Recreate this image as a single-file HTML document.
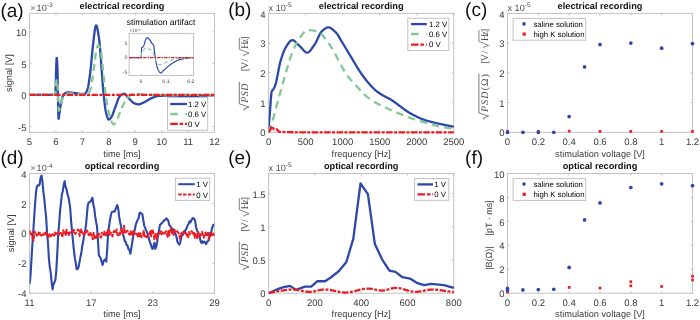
<!DOCTYPE html>
<html><head><meta charset="utf-8"><style>html,body{margin:0;padding:0;background:#fff;}svg{display:block;filter:blur(0.3px);}text{text-rendering:geometricPrecision;}</style></head>
<body><svg width="700" height="320" viewBox="0 0 700 320">
<rect width="700" height="320" fill="#fff"/>
<g>
<line x1="29.5" y1="132.3" x2="29.5" y2="130.3" stroke="#c2c2c2" stroke-width="1"/>
<line x1="29.5" y1="13.4" x2="29.5" y2="15.4" stroke="#c2c2c2" stroke-width="1"/>
<line x1="55.93" y1="132.3" x2="55.93" y2="130.3" stroke="#c2c2c2" stroke-width="1"/>
<line x1="55.93" y1="13.4" x2="55.93" y2="15.4" stroke="#c2c2c2" stroke-width="1"/>
<line x1="82.36" y1="132.3" x2="82.36" y2="130.3" stroke="#c2c2c2" stroke-width="1"/>
<line x1="82.36" y1="13.4" x2="82.36" y2="15.4" stroke="#c2c2c2" stroke-width="1"/>
<line x1="108.79" y1="132.3" x2="108.79" y2="130.3" stroke="#c2c2c2" stroke-width="1"/>
<line x1="108.79" y1="13.4" x2="108.79" y2="15.4" stroke="#c2c2c2" stroke-width="1"/>
<line x1="135.21" y1="132.3" x2="135.21" y2="130.3" stroke="#c2c2c2" stroke-width="1"/>
<line x1="135.21" y1="13.4" x2="135.21" y2="15.4" stroke="#c2c2c2" stroke-width="1"/>
<line x1="161.64" y1="132.3" x2="161.64" y2="130.3" stroke="#c2c2c2" stroke-width="1"/>
<line x1="161.64" y1="13.4" x2="161.64" y2="15.4" stroke="#c2c2c2" stroke-width="1"/>
<line x1="188.07" y1="132.3" x2="188.07" y2="130.3" stroke="#c2c2c2" stroke-width="1"/>
<line x1="188.07" y1="13.4" x2="188.07" y2="15.4" stroke="#c2c2c2" stroke-width="1"/>
<line x1="214.5" y1="132.3" x2="214.5" y2="130.3" stroke="#c2c2c2" stroke-width="1"/>
<line x1="214.5" y1="13.4" x2="214.5" y2="15.4" stroke="#c2c2c2" stroke-width="1"/>
<line x1="29.5" y1="126.38" x2="31.5" y2="126.38" stroke="#c2c2c2" stroke-width="1"/>
<line x1="214.5" y1="126.38" x2="212.5" y2="126.38" stroke="#c2c2c2" stroke-width="1"/>
<line x1="29.5" y1="94.89" x2="31.5" y2="94.89" stroke="#c2c2c2" stroke-width="1"/>
<line x1="214.5" y1="94.89" x2="212.5" y2="94.89" stroke="#c2c2c2" stroke-width="1"/>
<line x1="29.5" y1="63.4" x2="31.5" y2="63.4" stroke="#c2c2c2" stroke-width="1"/>
<line x1="214.5" y1="63.4" x2="212.5" y2="63.4" stroke="#c2c2c2" stroke-width="1"/>
<line x1="29.5" y1="31.92" x2="31.5" y2="31.92" stroke="#c2c2c2" stroke-width="1"/>
<line x1="214.5" y1="31.92" x2="212.5" y2="31.92" stroke="#c2c2c2" stroke-width="1"/>
<rect x="29.5" y="13.4" width="185" height="118.9" fill="none" stroke="#c2c2c2" stroke-width="1"/>
<text x="29.5" y="144.9" font-family="Liberation Sans" font-size="9.5" font-weight="normal" font-style="normal" fill="#3a3a3a" text-anchor="middle">5</text>
<text x="55.93" y="144.9" font-family="Liberation Sans" font-size="9.5" font-weight="normal" font-style="normal" fill="#3a3a3a" text-anchor="middle">6</text>
<text x="82.36" y="144.9" font-family="Liberation Sans" font-size="9.5" font-weight="normal" font-style="normal" fill="#3a3a3a" text-anchor="middle">7</text>
<text x="108.79" y="144.9" font-family="Liberation Sans" font-size="9.5" font-weight="normal" font-style="normal" fill="#3a3a3a" text-anchor="middle">8</text>
<text x="135.21" y="144.9" font-family="Liberation Sans" font-size="9.5" font-weight="normal" font-style="normal" fill="#3a3a3a" text-anchor="middle">9</text>
<text x="161.64" y="144.9" font-family="Liberation Sans" font-size="9.5" font-weight="normal" font-style="normal" fill="#3a3a3a" text-anchor="middle">10</text>
<text x="188.07" y="144.9" font-family="Liberation Sans" font-size="9.5" font-weight="normal" font-style="normal" fill="#3a3a3a" text-anchor="middle">11</text>
<text x="214.5" y="144.9" font-family="Liberation Sans" font-size="9.5" font-weight="normal" font-style="normal" fill="#3a3a3a" text-anchor="middle">12</text>
<text x="26.5" y="130.5" font-family="Liberation Sans" font-size="9.5" font-weight="normal" font-style="normal" fill="#3a3a3a" text-anchor="end">-5</text>
<text x="26.5" y="99.01" font-family="Liberation Sans" font-size="9.5" font-weight="normal" font-style="normal" fill="#3a3a3a" text-anchor="end">0</text>
<text x="26.5" y="67.52" font-family="Liberation Sans" font-size="9.5" font-weight="normal" font-style="normal" fill="#3a3a3a" text-anchor="end">5</text>
<text x="26.5" y="36.04" font-family="Liberation Sans" font-size="9.5" font-weight="normal" font-style="normal" fill="#3a3a3a" text-anchor="end">10</text>
<clipPath id="ca"><rect x="29.5" y="13.4" width="185" height="118.9"/></clipPath>
<g clip-path="url(#ca)">
<path d="M29.5 94.89 L29.71 94.89 L29.91 94.89 L30.12 94.89 L30.32 94.89 L30.53 94.89 L30.73 94.89 L30.94 94.89 L31.15 94.89 L31.35 94.89 L31.56 94.89 L31.76 94.89 L31.97 94.89 L32.18 94.89 L32.38 94.89 L32.59 94.89 L32.79 94.89 L33 94.89 L33.2 94.89 L33.41 94.89 L33.62 94.89 L33.82 94.89 L34.03 94.89 L34.23 94.89 L34.44 94.89 L34.64 94.89 L34.85 94.89 L35.06 94.89 L35.26 94.89 L35.47 94.89 L35.67 94.89 L35.88 94.89 L36.09 94.89 L36.29 94.89 L36.5 94.89 L36.7 94.89 L36.91 94.89 L37.11 94.89 L37.32 94.89 L37.53 94.89 L37.73 94.89 L37.94 94.89 L38.14 94.89 L38.35 94.89 L38.55 94.89 L38.76 94.89 L38.97 94.89 L39.17 94.89 L39.38 94.89 L39.58 94.89 L39.79 94.89 L39.99 94.89 L40.2 94.89 L40.41 94.89 L40.61 94.89 L40.82 94.89 L41.02 94.89 L41.23 94.89 L41.44 94.89 L41.64 94.89 L41.85 94.89 L42.05 94.89 L42.26 94.89 L42.46 94.89 L42.67 94.89 L42.88 94.89 L43.08 94.89 L43.29 94.89 L43.49 94.89 L43.7 94.89 L43.9 94.89 L44.11 94.89 L44.32 94.89 L44.52 94.89 L44.73 94.89 L44.93 94.89 L45.14 94.89 L45.35 94.89 L45.55 94.89 L45.76 94.89 L45.96 94.89 L46.17 94.89 L46.37 94.89 L46.58 94.89 L46.79 94.89 L46.99 94.89 L47.2 94.89 L47.4 94.89 L47.61 94.89 L47.81 94.89 L48.02 94.89 L48.23 94.89 L48.43 94.89 L48.64 94.89 L48.84 94.89 L49.05 94.89 L49.26 94.89 L49.46 94.89 L49.67 94.89 L49.87 94.89 L50.08 94.89 L50.28 94.89 L50.49 94.89 L50.7 94.89 L50.9 94.89 L51.11 94.89 L51.31 94.89 L51.52 94.89 L51.72 94.89 L51.93 94.89 L52.14 94.89 L52.34 94.89 L52.55 94.89 L52.75 94.89 L52.96 94.89 L53.17 94.89 L53.37 94.89 L53.58 94.89 L53.78 94.89 L53.99 94.89 L54.19 94.89 L54.4 94.89 L54.61 94.89 L54.81 94.89 L55.02 94.89 L55.22 94.89 L55.43 94.77 L55.63 88.68 L55.84 79.14 L56.05 72.49 L56.25 66.14 L56.46 60.79 L56.66 57.9 L56.87 58.27 L57.08 60.56 L57.28 64.29 L57.49 69.01 L57.69 78.27 L57.9 92.83 L58.1 103.92 L58.31 113.09 L58.52 118.75 L58.72 118.73 L58.93 117.4 L59.13 115.62 L59.34 113.95 L59.54 112.61 L59.75 111.22 L59.96 109.83 L60.16 108.44 L60.37 107.09 L60.57 105.8 L60.78 104.6 L60.98 103.51 L61.19 102.55 L61.4 101.68 L61.6 100.83 L61.81 99.99 L62.01 99.17 L62.22 98.38 L62.43 97.64 L62.63 96.94 L62.84 96.3 L63.04 95.72 L63.25 95.22 L63.45 94.81 L63.66 94.48 L63.87 94.25 L64.07 94.08 L64.28 93.91 L64.48 93.75 L64.69 93.6 L64.89 93.45 L65.1 93.31 L65.31 93.18 L65.51 93.06 L65.72 92.95 L65.92 92.85 L66.13 92.75 L66.34 92.67 L66.54 92.59 L66.75 92.53 L66.95 92.48 L67.16 92.43 L67.36 92.4 L67.57 92.38 L67.78 92.37 L67.98 92.37 L68.19 92.38 L68.39 92.38 L68.6 92.39 L68.8 92.4 L69.01 92.41 L69.22 92.42 L69.42 92.43 L69.63 92.45 L69.83 92.47 L70.04 92.49 L70.25 92.51 L70.45 92.53 L70.66 92.55 L70.86 92.57 L71.07 92.59 L71.27 92.62 L71.48 92.64 L71.69 92.67 L71.89 92.69 L72.1 92.72 L72.3 92.75 L72.51 92.77 L72.71 92.8 L72.92 92.82 L73.13 92.85 L73.33 92.88 L73.54 92.9 L73.74 92.93 L73.95 92.95 L74.16 92.97 L74.36 93 L74.57 93.02 L74.77 93.04 L74.98 93.07 L75.18 93.09 L75.39 93.12 L75.6 93.15 L75.8 93.18 L76.01 93.21 L76.21 93.24 L76.42 93.27 L76.62 93.3 L76.83 93.33 L77.04 93.37 L77.24 93.4 L77.45 93.43 L77.65 93.46 L77.86 93.5 L78.07 93.53 L78.27 93.56 L78.48 93.59 L78.68 93.62 L78.89 93.65 L79.09 93.68 L79.3 93.71 L79.51 93.74 L79.71 93.76 L79.92 93.79 L80.12 93.81 L80.33 93.83 L80.53 93.85 L80.74 93.87 L80.95 93.89 L81.15 93.9 L81.36 93.92 L81.56 93.93 L81.77 93.94 L81.97 93.94 L82.18 93.95 L82.39 93.95 L82.59 93.94 L82.8 93.94 L83 93.93 L83.21 93.91 L83.42 93.89 L83.62 93.87 L83.83 93.84 L84.03 93.82 L84.24 93.78 L84.44 93.75 L84.65 93.71 L84.86 93.66 L85.06 93.62 L85.27 93.51 L85.47 93.34 L85.68 93.1 L85.88 92.8 L86.09 92.45 L86.3 92.05 L86.5 91.61 L86.71 91.13 L86.91 90.61 L87.12 90.07 L87.33 89.5 L87.53 88.92 L87.74 88.3 L87.94 87.55 L88.15 86.66 L88.35 85.64 L88.56 84.5 L88.77 83.25 L88.97 81.92 L89.18 80.52 L89.38 79.05 L89.59 77.53 L89.79 75.98 L90 74.41 L90.21 72.83 L90.41 71.21 L90.62 69.42 L90.82 67.46 L91.03 65.36 L91.24 63.17 L91.44 60.92 L91.65 58.63 L91.85 56.35 L92.06 54.11 L92.26 51.93 L92.47 49.85 L92.68 47.92 L92.88 46.15 L93.09 44.49 L93.29 42.77 L93.5 40.99 L93.7 39.2 L93.91 37.4 L94.12 35.64 L94.32 33.93 L94.53 32.3 L94.73 30.78 L94.94 29.39 L95.15 28.16 L95.35 27.12 L95.56 26.29 L95.76 25.7 L95.97 25.36 L96.17 25.32 L96.38 25.48 L96.59 25.82 L96.79 26.33 L97 26.98 L97.2 27.77 L97.41 28.68 L97.61 29.7 L97.82 30.8 L98.03 31.98 L98.23 33.23 L98.44 34.52 L98.64 35.84 L98.85 37.18 L99.06 38.53 L99.26 40.12 L99.47 41.99 L99.67 44.12 L99.88 46.45 L100.08 48.96 L100.29 51.58 L100.5 54.29 L100.7 57.04 L100.91 59.78 L101.11 62.48 L101.32 65.1 L101.52 67.65 L101.73 70.34 L101.94 73.13 L102.14 75.97 L102.35 78.83 L102.55 81.65 L102.76 84.4 L102.96 87.03 L103.17 89.5 L103.38 91.76 L103.58 93.8 L103.79 95.77 L103.99 97.73 L104.2 99.64 L104.41 101.5 L104.61 103.3 L104.82 105.01 L105.02 106.63 L105.23 108.14 L105.43 109.53 L105.64 110.78 L105.85 111.87 L106.05 112.8 L106.26 113.58 L106.46 114.33 L106.67 115.06 L106.87 115.77 L107.08 116.45 L107.29 117.08 L107.49 117.66 L107.7 118.18 L107.9 118.63 L108.11 119.01 L108.32 119.29 L108.52 119.49 L108.73 119.57 L108.93 119.57 L109.14 119.51 L109.34 119.4 L109.55 119.26 L109.76 119.09 L109.96 118.88 L110.17 118.65 L110.37 118.39 L110.58 118.12 L110.78 117.84 L110.99 117.55 L111.2 117.26 L111.4 116.97 L111.61 116.66 L111.81 116.31 L112.02 115.92 L112.23 115.48 L112.43 115.01 L112.64 114.51 L112.84 113.98 L113.05 113.43 L113.25 112.87 L113.46 112.28 L113.67 111.69 L113.87 111.09 L114.08 110.49 L114.28 109.89 L114.49 109.29 L114.69 108.71 L114.9 108.14 L115.11 107.59 L115.31 107.06 L115.52 106.55 L115.72 106.01 L115.93 105.46 L116.14 104.9 L116.34 104.32 L116.55 103.73 L116.75 103.14 L116.96 102.54 L117.16 101.95 L117.37 101.37 L117.58 100.8 L117.78 100.24 L117.99 99.69 L118.19 99.17 L118.4 98.67 L118.6 98.21 L118.81 97.77 L119.02 97.37 L119.22 97.01 L119.43 96.69 L119.63 96.42 L119.84 96.19 L120.05 96.01 L120.25 95.83 L120.46 95.66 L120.66 95.48 L120.87 95.32 L121.07 95.16 L121.28 95 L121.49 94.85 L121.69 94.71 L121.9 94.58 L122.1 94.46 L122.31 94.34 L122.51 94.23 L122.72 94.14 L122.93 94.06 L123.13 93.98 L123.34 93.92 L123.54 93.88 L123.75 93.84 L123.95 93.83 L124.16 93.82 L124.37 93.85 L124.57 93.9 L124.78 93.99 L124.98 94.11 L125.19 94.25 L125.4 94.41 L125.6 94.59 L125.81 94.79 L126.01 95.01 L126.22 95.24 L126.42 95.47 L126.63 95.72 L126.84 95.98 L127.04 96.23 L127.25 96.49 L127.45 96.75 L127.66 97 L127.86 97.24 L128.07 97.48 L128.28 97.71 L128.48 97.92 L128.69 98.12 L128.89 98.32 L129.1 98.53 L129.31 98.74 L129.51 98.97 L129.72 99.19 L129.92 99.42 L130.13 99.65 L130.33 99.88 L130.54 100.11 L130.75 100.34 L130.95 100.57 L131.16 100.8 L131.36 101.02 L131.57 101.24 L131.77 101.46 L131.98 101.66 L132.19 101.86 L132.39 102.05 L132.6 102.23 L132.8 102.4 L133.01 102.56 L133.22 102.7 L133.42 102.83 L133.63 102.95 L133.83 103.05 L134.04 103.14 L134.24 103.23 L134.45 103.31 L134.66 103.4 L134.86 103.48 L135.07 103.57 L135.27 103.65 L135.48 103.72 L135.68 103.8 L135.89 103.87 L136.1 103.93 L136.3 104 L136.51 104.06 L136.71 104.11 L136.92 104.16 L137.13 104.21 L137.33 104.24 L137.54 104.28 L137.74 104.3 L137.95 104.32 L138.15 104.33 L138.36 104.34 L138.57 104.33 L138.77 104.32 L138.98 104.3 L139.18 104.27 L139.39 104.24 L139.59 104.2 L139.8 104.15 L140.01 104.09 L140.21 104.03 L140.42 103.96 L140.62 103.89 L140.83 103.82 L141.04 103.74 L141.24 103.65 L141.45 103.56 L141.65 103.47 L141.86 103.38 L142.06 103.28 L142.27 103.19 L142.48 103.09 L142.68 102.99 L142.89 102.89 L143.09 102.78 L143.3 102.68 L143.5 102.58 L143.71 102.48 L143.92 102.39 L144.12 102.29 L144.33 102.2 L144.53 102.1 L144.74 102.01 L144.94 101.91 L145.15 101.8 L145.36 101.69 L145.56 101.58 L145.77 101.46 L145.97 101.34 L146.18 101.22 L146.39 101.1 L146.59 100.97 L146.8 100.84 L147 100.71 L147.21 100.58 L147.41 100.45 L147.62 100.31 L147.83 100.18 L148.03 100.05 L148.24 99.92 L148.44 99.79 L148.65 99.66 L148.85 99.53 L149.06 99.41 L149.27 99.28 L149.47 99.16 L149.68 99.04 L149.88 98.93 L150.09 98.82 L150.3 98.71 L150.5 98.61 L150.71 98.51 L150.91 98.42 L151.12 98.34 L151.32 98.25 L151.53 98.16 L151.74 98.08 L151.94 97.99 L152.15 97.9 L152.35 97.81 L152.56 97.73 L152.76 97.64 L152.97 97.55 L153.18 97.46 L153.38 97.38 L153.59 97.29 L153.79 97.21 L154 97.12 L154.21 97.04 L154.41 96.96 L154.62 96.88 L154.82 96.8 L155.03 96.73 L155.23 96.65 L155.44 96.58 L155.65 96.51 L155.85 96.44 L156.06 96.38 L156.26 96.32 L156.47 96.26 L156.67 96.2 L156.88 96.15 L157.09 96.1 L157.29 96.06 L157.5 96.01 L157.7 95.98 L157.91 95.94 L158.12 95.91 L158.32 95.89 L158.53 95.87 L158.73 95.85 L158.94 95.84 L159.14 95.83 L159.35 95.82 L159.56 95.82 L159.76 95.81 L159.97 95.8 L160.17 95.8 L160.38 95.79 L160.58 95.78 L160.79 95.78 L161 95.77 L161.2 95.77 L161.41 95.76 L161.61 95.76 L161.82 95.75 L162.03 95.74 L162.23 95.74 L162.44 95.73 L162.64 95.73 L162.85 95.72 L163.05 95.72 L163.26 95.72 L163.47 95.71 L163.67 95.71 L163.88 95.7 L164.08 95.7 L164.29 95.7 L164.49 95.69 L164.7 95.69 L164.91 95.68 L165.11 95.68 L165.32 95.68 L165.52 95.68 L165.73 95.67 L165.93 95.67 L166.14 95.67 L166.35 95.67 L166.55 95.66 L166.76 95.66 L166.96 95.66 L167.17 95.66 L167.38 95.66 L167.58 95.65 L167.79 95.65 L167.99 95.65 L168.2 95.65 L168.4 95.65 L168.61 95.65 L168.82 95.65 L169.02 95.65 L169.23 95.65 L169.43 95.65 L169.64 95.65 L169.84 95.65 L170.05 95.65 L170.26 95.65 L170.46 95.65 L170.67 95.65 L170.87 95.65 L171.08 95.65 L171.29 95.65 L171.49 95.65 L171.7 95.65 L171.9 95.66 L172.11 95.66 L172.31 95.66 L172.52 95.66 L172.73 95.66 L172.93 95.66 L173.14 95.67 L173.34 95.67 L173.55 95.67 L173.75 95.67 L173.96 95.67 L174.17 95.68 L174.37 95.68 L174.58 95.68 L174.78 95.68 L174.99 95.69 L175.2 95.69 L175.4 95.69 L175.61 95.69 L175.81 95.7 L176.02 95.7 L176.22 95.7 L176.43 95.71 L176.64 95.71 L176.84 95.71 L177.05 95.72 L177.25 95.72 L177.46 95.72 L177.66 95.72 L177.87 95.73 L178.08 95.73 L178.28 95.73 L178.49 95.74 L178.69 95.74 L178.9 95.74 L179.11 95.75 L179.31 95.75 L179.52 95.75 L179.72 95.76 L179.93 95.76 L180.13 95.76 L180.34 95.77 L180.55 95.77 L180.75 95.77 L180.96 95.77 L181.16 95.78 L181.37 95.78 L181.57 95.78 L181.78 95.79 L181.99 95.79 L182.19 95.79 L182.4 95.79 L182.6 95.8 L182.81 95.8 L183.02 95.8 L183.22 95.8 L183.43 95.81 L183.63 95.81 L183.84 95.81 L184.04 95.81 L184.25 95.82 L184.46 95.82 L184.66 95.82 L184.87 95.82 L185.07 95.82 L185.28 95.82 L185.48 95.83 L185.69 95.83 L185.9 95.83 L186.1 95.83 L186.31 95.83 L186.51 95.83 L186.72 95.83 L186.92 95.83 L187.13 95.84 L187.34 95.84 L187.54 95.84 L187.75 95.84 L187.95 95.84 L188.16 95.84 L188.37 95.84 L188.57 95.84 L188.78 95.84 L188.98 95.84 L189.19 95.84 L189.39 95.83 L189.6 95.83 L189.81 95.83 L190.01 95.83 L190.22 95.83 L190.42 95.83 L190.63 95.83 L190.83 95.83 L191.04 95.83 L191.25 95.83 L191.45 95.82 L191.66 95.82 L191.86 95.82 L192.07 95.82 L192.28 95.82 L192.48 95.82 L192.69 95.81 L192.89 95.81 L193.1 95.81 L193.3 95.81 L193.51 95.81 L193.72 95.8 L193.92 95.8 L194.13 95.8 L194.33 95.8 L194.54 95.79 L194.74 95.79 L194.95 95.79 L195.16 95.79 L195.36 95.78 L195.57 95.78 L195.77 95.78 L195.98 95.77 L196.19 95.77 L196.39 95.77 L196.6 95.76 L196.8 95.76 L197.01 95.76 L197.21 95.75 L197.42 95.75 L197.63 95.75 L197.83 95.74 L198.04 95.74 L198.24 95.73 L198.45 95.73 L198.65 95.73 L198.86 95.72 L199.07 95.72 L199.27 95.71 L199.48 95.71 L199.68 95.7 L199.89 95.7 L200.1 95.69 L200.3 95.69 L200.51 95.69 L200.71 95.68 L200.92 95.68 L201.12 95.67 L201.33 95.67 L201.54 95.66 L201.74 95.66 L201.95 95.65 L202.15 95.64 L202.36 95.64 L202.56 95.63 L202.77 95.63 L202.98 95.62 L203.18 95.62 L203.39 95.61 L203.59 95.6 L203.8 95.6 L204.01 95.59 L204.21 95.59 L204.42 95.58 L204.62 95.57 L204.83 95.57 L205.03 95.56 L205.24 95.56 L205.45 95.55 L205.65 95.54 L205.86 95.54 L206.06 95.53 L206.27 95.52 L206.47 95.52 L206.68 95.51 L206.89 95.5 L207.09 95.5 L207.3 95.49 L207.5 95.48 L207.71 95.47 L207.91 95.47 L208.12 95.46 L208.33 95.45 L208.53 95.45 L208.74 95.44 L208.94 95.43 L209.15 95.42 L209.36 95.42 L209.56 95.41 L209.77 95.4 L209.97 95.39 L210.18 95.38 L210.38 95.38 L210.59 95.37 L210.8 95.36 L211 95.35 L211.21 95.34 L211.41 95.34 L211.62 95.33 L211.82 95.32 L212.03 95.31 L212.24 95.3 L212.44 95.29 L212.65 95.29 L212.85 95.28 L213.06 95.27 L213.27 95.26 L213.47 95.25 L213.68 95.24 L213.88 95.23 L214.09 95.22 L214.29 95.22 L214.5 95.21" fill="none" stroke="#2d48ab" stroke-width="2.3" stroke-linecap="butt" stroke-linejoin="round"/>
<path d="M29.5 94.89 L29.71 94.89 L29.91 94.89 L30.12 94.89 L30.32 94.89 L30.53 94.89 L30.73 94.89 L30.94 94.89 L31.15 94.89 L31.35 94.89 L31.56 94.89 L31.76 94.89 L31.97 94.89 L32.18 94.89 L32.38 94.89 L32.59 94.89 L32.79 94.89 L33 94.89 L33.2 94.89 L33.41 94.89 L33.62 94.89 L33.82 94.89 L34.03 94.89 L34.23 94.89 L34.44 94.89 L34.64 94.89 L34.85 94.89 L35.06 94.89 L35.26 94.89 L35.47 94.89 L35.67 94.89 L35.88 94.89 L36.09 94.89 L36.29 94.89 L36.5 94.89 L36.7 94.89 L36.91 94.89 L37.11 94.89 L37.32 94.89 L37.53 94.89 L37.73 94.89 L37.94 94.89 L38.14 94.89 L38.35 94.89 L38.55 94.89 L38.76 94.89 L38.97 94.89 L39.17 94.89 L39.38 94.89 L39.58 94.89 L39.79 94.89 L39.99 94.89 L40.2 94.89 L40.41 94.89 L40.61 94.89 L40.82 94.89 L41.02 94.89 L41.23 94.89 L41.44 94.89 L41.64 94.89 L41.85 94.89 L42.05 94.89 L42.26 94.89 L42.46 94.89 L42.67 94.89 L42.88 94.89 L43.08 94.89 L43.29 94.89 L43.49 94.89 L43.7 94.89 L43.9 94.89 L44.11 94.89 L44.32 94.89 L44.52 94.89 L44.73 94.89 L44.93 94.89 L45.14 94.89 L45.35 94.89 L45.55 94.89 L45.76 94.89 L45.96 94.89 L46.17 94.89 L46.37 94.89 L46.58 94.89 L46.79 94.89 L46.99 94.89 L47.2 94.89 L47.4 94.89 L47.61 94.89 L47.81 94.89 L48.02 94.89 L48.23 94.89 L48.43 94.89 L48.64 94.89 L48.84 94.89 L49.05 94.89 L49.26 94.89 L49.46 94.89 L49.67 94.89 L49.87 94.89 L50.08 94.89 L50.28 94.89 L50.49 94.89 L50.7 94.89 L50.9 94.89 L51.11 94.89 L51.31 94.89 L51.52 94.89 L51.72 94.89 L51.93 94.89 L52.14 94.89 L52.34 94.89 L52.55 94.89 L52.75 94.89 L52.96 94.89 L53.17 94.89 L53.37 94.89 L53.58 94.89 L53.78 94.89 L53.99 94.89 L54.19 94.89 L54.4 94.89 L54.61 94.89 L54.81 94.89 L55.02 94.89 L55.22 94.89 L55.43 94.82 L55.63 91.51 L55.84 86.73 L56.05 84.35 L56.25 82.56 L56.46 81.04 L56.66 79.9 L56.87 79.25 L57.08 79.34 L57.28 80.98 L57.49 83.8 L57.69 87.17 L57.9 90.97 L58.1 96.25 L58.31 101.24 L58.52 106 L58.72 109.9 L58.93 110.6 L59.13 110.31 L59.34 109.78 L59.54 109.09 L59.75 108.31 L59.96 107.54 L60.16 106.84 L60.37 106.17 L60.57 105.43 L60.78 104.65 L60.98 103.85 L61.19 103.03 L61.4 102.22 L61.6 101.44 L61.81 100.7 L62.01 100.02 L62.22 99.41 L62.43 98.9 L62.63 98.49 L62.84 98.09 L63.04 97.71 L63.25 97.33 L63.45 96.96 L63.66 96.6 L63.87 96.25 L64.07 95.92 L64.28 95.6 L64.48 95.3 L64.69 95.02 L64.89 94.76 L65.1 94.53 L65.31 94.31 L65.51 94.12 L65.72 93.96 L65.92 93.83 L66.13 93.73 L66.34 93.66 L66.54 93.63 L66.75 93.6 L66.95 93.58 L67.16 93.56 L67.36 93.54 L67.57 93.52 L67.78 93.5 L67.98 93.48 L68.19 93.46 L68.39 93.45 L68.6 93.43 L68.8 93.42 L69.01 93.4 L69.22 93.39 L69.42 93.38 L69.63 93.37 L69.83 93.36 L70.04 93.35 L70.25 93.34 L70.45 93.34 L70.66 93.33 L70.86 93.33 L71.07 93.32 L71.27 93.32 L71.48 93.32 L71.69 93.32 L71.89 93.32 L72.1 93.32 L72.3 93.32 L72.51 93.33 L72.71 93.34 L72.92 93.35 L73.13 93.36 L73.33 93.37 L73.54 93.39 L73.74 93.4 L73.95 93.42 L74.16 93.44 L74.36 93.46 L74.57 93.48 L74.77 93.5 L74.98 93.52 L75.18 93.55 L75.39 93.57 L75.6 93.6 L75.8 93.62 L76.01 93.65 L76.21 93.68 L76.42 93.7 L76.62 93.73 L76.83 93.76 L77.04 93.79 L77.24 93.81 L77.45 93.84 L77.65 93.87 L77.86 93.89 L78.07 93.92 L78.27 93.95 L78.48 93.97 L78.68 94 L78.89 94.02 L79.09 94.05 L79.3 94.07 L79.51 94.09 L79.71 94.11 L79.92 94.13 L80.12 94.15 L80.33 94.17 L80.53 94.19 L80.74 94.2 L80.95 94.22 L81.15 94.23 L81.36 94.24 L81.56 94.25 L81.77 94.25 L81.97 94.26 L82.18 94.26 L82.39 94.26 L82.59 94.26 L82.8 94.26 L83 94.26 L83.21 94.26 L83.42 94.26 L83.62 94.26 L83.83 94.26 L84.03 94.26 L84.24 94.26 L84.44 94.26 L84.65 94.26 L84.86 94.26 L85.06 94.26 L85.27 94.26 L85.47 94.26 L85.68 94.26 L85.88 94.26 L86.09 94.26 L86.3 94.26 L86.5 94.26 L86.71 94.26 L86.91 94.26 L87.12 94.26 L87.33 94.26 L87.53 94.26 L87.74 94.25 L87.94 94.18 L88.15 94.04 L88.35 93.83 L88.56 93.57 L88.77 93.25 L88.97 92.89 L89.18 92.49 L89.38 92.05 L89.59 91.58 L89.79 91.09 L90 90.58 L90.21 90.06 L90.41 89.5 L90.62 88.8 L90.82 87.95 L91.03 86.98 L91.24 85.89 L91.44 84.71 L91.65 83.44 L91.85 82.1 L92.06 80.71 L92.26 79.28 L92.47 77.82 L92.68 76.36 L92.88 74.9 L93.09 73.45 L93.29 72.05 L93.5 70.69 L93.7 69.26 L93.91 67.74 L94.12 66.15 L94.32 64.51 L94.53 62.85 L94.73 61.19 L94.94 59.55 L95.15 57.97 L95.35 56.47 L95.56 55.08 L95.76 53.81 L95.97 52.69 L96.17 51.74 L96.38 50.8 L96.59 49.86 L96.79 48.94 L97 48.07 L97.2 47.26 L97.41 46.55 L97.61 45.96 L97.82 45.51 L98.03 45.23 L98.23 45.14 L98.44 45.2 L98.64 45.37 L98.85 45.62 L99.06 45.96 L99.26 46.38 L99.47 46.87 L99.67 47.42 L99.88 48.03 L100.08 48.68 L100.29 49.38 L100.5 50.11 L100.7 50.86 L100.91 51.63 L101.11 52.63 L101.32 53.91 L101.52 55.43 L101.73 57.14 L101.94 59.02 L102.14 61.03 L102.35 63.12 L102.55 65.27 L102.76 67.43 L102.96 69.56 L103.17 71.64 L103.38 73.62 L103.58 75.48 L103.79 77.36 L103.99 79.29 L104.2 81.24 L104.41 83.19 L104.61 85.12 L104.82 87.02 L105.02 88.86 L105.23 90.62 L105.43 92.28 L105.64 93.82 L105.85 95.3 L106.05 96.75 L106.26 98.17 L106.46 99.56 L106.67 100.92 L106.87 102.25 L107.08 103.54 L107.29 104.79 L107.49 106 L107.7 107.17 L107.9 108.29 L108.11 109.36 L108.32 110.39 L108.52 111.36 L108.73 112.27 L108.93 113.15 L109.14 114 L109.34 114.85 L109.55 115.67 L109.76 116.46 L109.96 117.22 L110.17 117.95 L110.37 118.64 L110.58 119.28 L110.78 119.87 L110.99 120.4 L111.2 120.88 L111.4 121.29 L111.61 121.67 L111.81 122.04 L112.02 122.4 L112.23 122.75 L112.43 123.08 L112.64 123.38 L112.84 123.65 L113.05 123.89 L113.25 124.07 L113.46 124.21 L113.67 124.29 L113.87 124.3 L114.08 124.24 L114.28 124.11 L114.49 123.93 L114.69 123.69 L114.9 123.41 L115.11 123.09 L115.31 122.74 L115.52 122.37 L115.72 121.98 L115.93 121.58 L116.14 121.17 L116.34 120.77 L116.55 120.39 L116.75 120.01 L116.96 119.64 L117.16 119.23 L117.37 118.81 L117.58 118.36 L117.78 117.9 L117.99 117.43 L118.19 116.93 L118.4 116.43 L118.6 115.91 L118.81 115.39 L119.02 114.86 L119.22 114.32 L119.43 113.78 L119.63 113.24 L119.84 112.7 L120.05 112.16 L120.25 111.63 L120.46 111.1 L120.66 110.58 L120.87 110.06 L121.07 109.56 L121.28 109.07 L121.49 108.6 L121.69 108.14 L121.9 107.7 L122.1 107.28 L122.31 106.85 L122.51 106.43 L122.72 106.01 L122.93 105.58 L123.13 105.16 L123.34 104.74 L123.54 104.32 L123.75 103.91 L123.95 103.5 L124.16 103.09 L124.37 102.69 L124.57 102.29 L124.78 101.91 L124.98 101.53 L125.19 101.16 L125.4 100.8 L125.6 100.44 L125.81 100.1 L126.01 99.77 L126.22 99.46 L126.42 99.15 L126.63 98.86 L126.84 98.59 L127.04 98.33 L127.25 98.08 L127.45 97.85 L127.66 97.63 L127.86 97.41 L128.07 97.19 L128.28 96.99 L128.48 96.78 L128.69 96.59 L128.89 96.4 L129.1 96.22 L129.31 96.04 L129.51 95.87 L129.72 95.71 L129.92 95.56 L130.13 95.41 L130.33 95.27 L130.54 95.14 L130.75 95.02 L130.95 94.91 L131.16 94.8 L131.36 94.69 L131.57 94.58 L131.77 94.48 L131.98 94.37 L132.19 94.26 L132.39 94.16 L132.6 94.06 L132.8 93.96 L133.01 93.87 L133.22 93.78 L133.42 93.7 L133.63 93.62 L133.83 93.55 L134.04 93.49 L134.24 93.44 L134.45 93.39 L134.66 93.36 L134.86 93.33 L135.07 93.32 L135.27 93.32 L135.48 93.32 L135.68 93.33 L135.89 93.35 L136.1 93.37 L136.3 93.4 L136.51 93.43 L136.71 93.47 L136.92 93.51 L137.13 93.55 L137.33 93.59 L137.54 93.64 L137.74 93.69 L137.95 93.74 L138.15 93.79 L138.36 93.84 L138.57 93.89 L138.77 93.94 L138.98 93.98 L139.18 94.03 L139.39 94.08 L139.59 94.12 L139.8 94.16 L140.01 94.19 L140.21 94.22 L140.42 94.25 L140.62 94.28 L140.83 94.3 L141.04 94.32 L141.24 94.35 L141.45 94.37 L141.65 94.39 L141.86 94.42 L142.06 94.44 L142.27 94.46 L142.48 94.49 L142.68 94.51 L142.89 94.53 L143.09 94.55 L143.3 94.57 L143.5 94.6 L143.71 94.62 L143.92 94.64 L144.12 94.66 L144.33 94.68 L144.53 94.7 L144.74 94.71 L144.94 94.73 L145.15 94.75 L145.36 94.76 L145.56 94.78 L145.77 94.79 L145.97 94.81 L146.18 94.82 L146.39 94.83 L146.59 94.84 L146.8 94.85 L147 94.86 L147.21 94.87 L147.41 94.88 L147.62 94.88 L147.83 94.89 L148.03 94.89 L148.24 94.89 L148.44 94.89 L148.65 94.89 L148.85 94.89 L149.06 94.89 L149.27 94.89 L149.47 94.89 L149.68 94.89 L149.88 94.89 L150.09 94.89 L150.3 94.89 L150.5 94.89 L150.71 94.89 L150.91 94.89 L151.12 94.89 L151.32 94.89 L151.53 94.89 L151.74 94.89 L151.94 94.89 L152.15 94.89 L152.35 94.89 L152.56 94.89 L152.76 94.89 L152.97 94.89 L153.18 94.89 L153.38 94.89 L153.59 94.89 L153.79 94.89 L154 94.89 L154.21 94.89 L154.41 94.89 L154.62 94.89 L154.82 94.89 L155.03 94.89 L155.23 94.89 L155.44 94.89 L155.65 94.89 L155.85 94.89 L156.06 94.89 L156.26 94.89 L156.47 94.89 L156.67 94.89 L156.88 94.89 L157.09 94.89 L157.29 94.89 L157.5 94.89 L157.7 94.89 L157.91 94.89 L158.12 94.89 L158.32 94.89 L158.53 94.89 L158.73 94.89 L158.94 94.89 L159.14 94.89 L159.35 94.89 L159.56 94.89 L159.76 94.89 L159.97 94.89 L160.17 94.89 L160.38 94.89 L160.58 94.89 L160.79 94.89 L161 94.89 L161.2 94.89 L161.41 94.89 L161.61 94.89 L161.82 94.89 L162.03 94.89 L162.23 94.89 L162.44 94.89 L162.64 94.89 L162.85 94.89 L163.05 94.89 L163.26 94.89 L163.47 94.89 L163.67 94.89 L163.88 94.89 L164.08 94.89 L164.29 94.89 L164.49 94.89 L164.7 94.89 L164.91 94.89 L165.11 94.89 L165.32 94.89 L165.52 94.89 L165.73 94.89 L165.93 94.89 L166.14 94.89 L166.35 94.89 L166.55 94.89 L166.76 94.89 L166.96 94.89 L167.17 94.89 L167.38 94.89 L167.58 94.89 L167.79 94.89 L167.99 94.89 L168.2 94.89 L168.4 94.89 L168.61 94.89 L168.82 94.89 L169.02 94.89 L169.23 94.89 L169.43 94.89 L169.64 94.89 L169.84 94.89 L170.05 94.89 L170.26 94.89 L170.46 94.89 L170.67 94.89 L170.87 94.89 L171.08 94.89 L171.29 94.89 L171.49 94.89 L171.7 94.89 L171.9 94.89 L172.11 94.89 L172.31 94.89 L172.52 94.89 L172.73 94.89 L172.93 94.89 L173.14 94.89 L173.34 94.89 L173.55 94.89 L173.75 94.89 L173.96 94.89 L174.17 94.89 L174.37 94.89 L174.58 94.89 L174.78 94.89 L174.99 94.89 L175.2 94.89 L175.4 94.89 L175.61 94.89 L175.81 94.89 L176.02 94.89 L176.22 94.89 L176.43 94.89 L176.64 94.89 L176.84 94.89 L177.05 94.89 L177.25 94.89 L177.46 94.89 L177.66 94.89 L177.87 94.89 L178.08 94.89 L178.28 94.89 L178.49 94.89 L178.69 94.89 L178.9 94.89 L179.11 94.89 L179.31 94.89 L179.52 94.89 L179.72 94.89 L179.93 94.89 L180.13 94.89 L180.34 94.89 L180.55 94.89 L180.75 94.89 L180.96 94.89 L181.16 94.89 L181.37 94.89 L181.57 94.89 L181.78 94.89 L181.99 94.89 L182.19 94.89 L182.4 94.89 L182.6 94.89 L182.81 94.89 L183.02 94.89 L183.22 94.89 L183.43 94.89 L183.63 94.89 L183.84 94.89 L184.04 94.89 L184.25 94.89 L184.46 94.89 L184.66 94.89 L184.87 94.89 L185.07 94.89 L185.28 94.89 L185.48 94.89 L185.69 94.89 L185.9 94.89 L186.1 94.89 L186.31 94.89 L186.51 94.89 L186.72 94.89 L186.92 94.89 L187.13 94.89 L187.34 94.89 L187.54 94.89 L187.75 94.89 L187.95 94.89 L188.16 94.89 L188.37 94.89 L188.57 94.89 L188.78 94.89 L188.98 94.89 L189.19 94.89 L189.39 94.89 L189.6 94.89 L189.81 94.89 L190.01 94.89 L190.22 94.89 L190.42 94.89 L190.63 94.89 L190.83 94.89 L191.04 94.89 L191.25 94.89 L191.45 94.89 L191.66 94.89 L191.86 94.89 L192.07 94.89 L192.28 94.89 L192.48 94.89 L192.69 94.89 L192.89 94.89 L193.1 94.89 L193.3 94.89 L193.51 94.89 L193.72 94.89 L193.92 94.89 L194.13 94.89 L194.33 94.89 L194.54 94.89 L194.74 94.89 L194.95 94.89 L195.16 94.89 L195.36 94.89 L195.57 94.89 L195.77 94.89 L195.98 94.89 L196.19 94.89 L196.39 94.89 L196.6 94.89 L196.8 94.89 L197.01 94.89 L197.21 94.89 L197.42 94.89 L197.63 94.89 L197.83 94.89 L198.04 94.89 L198.24 94.89 L198.45 94.89 L198.65 94.89 L198.86 94.89 L199.07 94.89 L199.27 94.89 L199.48 94.89 L199.68 94.89 L199.89 94.89 L200.1 94.89 L200.3 94.89 L200.51 94.89 L200.71 94.89 L200.92 94.89 L201.12 94.89 L201.33 94.89 L201.54 94.89 L201.74 94.89 L201.95 94.89 L202.15 94.89 L202.36 94.89 L202.56 94.89 L202.77 94.89 L202.98 94.89 L203.18 94.89 L203.39 94.89 L203.59 94.89 L203.8 94.89 L204.01 94.89 L204.21 94.89 L204.42 94.89 L204.62 94.89 L204.83 94.89 L205.03 94.89 L205.24 94.89 L205.45 94.89 L205.65 94.89 L205.86 94.89 L206.06 94.89 L206.27 94.89 L206.47 94.89 L206.68 94.89 L206.89 94.89 L207.09 94.89 L207.3 94.89 L207.5 94.89 L207.71 94.89 L207.91 94.89 L208.12 94.89 L208.33 94.89 L208.53 94.89 L208.74 94.89 L208.94 94.89 L209.15 94.89 L209.36 94.89 L209.56 94.89 L209.77 94.89 L209.97 94.89 L210.18 94.89 L210.38 94.89 L210.59 94.89 L210.8 94.89 L211 94.89 L211.21 94.89 L211.41 94.89 L211.62 94.89 L211.82 94.89 L212.03 94.89 L212.24 94.89 L212.44 94.89 L212.65 94.89 L212.85 94.89 L213.06 94.89 L213.27 94.89 L213.47 94.89 L213.68 94.89 L213.88 94.89 L214.09 94.89 L214.29 94.89 L214.5 94.89" fill="none" stroke="#84c896" stroke-width="2.3" stroke-linecap="butt" stroke-linejoin="round" stroke-dasharray="7 4.5"/>
<path d="M29.5 94.89 L214.5 94.89" fill="none" stroke="#ec1c24" stroke-width="2.3" stroke-linecap="butt" stroke-linejoin="round" stroke-dasharray="6.4 1.5 3.0 1.5"/>
</g>
</g>
<rect x="129.1" y="33.4" width="64.5" height="42.1" fill="#fff"/>
<line x1="141.05" y1="75.5" x2="141.05" y2="74.3" stroke="#c2c2c2" stroke-width="1"/>
<line x1="141.05" y1="33.4" x2="141.05" y2="34.6" stroke="#c2c2c2" stroke-width="1"/>
<line x1="165.96" y1="75.5" x2="165.96" y2="74.3" stroke="#c2c2c2" stroke-width="1"/>
<line x1="165.96" y1="33.4" x2="165.96" y2="34.6" stroke="#c2c2c2" stroke-width="1"/>
<line x1="190.86" y1="75.5" x2="190.86" y2="74.3" stroke="#c2c2c2" stroke-width="1"/>
<line x1="190.86" y1="33.4" x2="190.86" y2="34.6" stroke="#c2c2c2" stroke-width="1"/>
<line x1="129.1" y1="72.36" x2="130.3" y2="72.36" stroke="#c2c2c2" stroke-width="1"/>
<line x1="193.6" y1="72.36" x2="192.4" y2="72.36" stroke="#c2c2c2" stroke-width="1"/>
<line x1="129.1" y1="57.56" x2="130.3" y2="57.56" stroke="#c2c2c2" stroke-width="1"/>
<line x1="193.6" y1="57.56" x2="192.4" y2="57.56" stroke="#c2c2c2" stroke-width="1"/>
<line x1="129.1" y1="42.76" x2="130.3" y2="42.76" stroke="#c2c2c2" stroke-width="1"/>
<line x1="193.6" y1="42.76" x2="192.4" y2="42.76" stroke="#c2c2c2" stroke-width="1"/>
<rect x="129.1" y="33.4" width="64.5" height="42.1" fill="none" stroke="#c2c2c2" stroke-width="1"/>
<text x="141.05" y="82.8" font-family="Liberation Sans" font-size="5.2" font-weight="normal" font-style="normal" fill="#3a3a3a" text-anchor="middle">6</text>
<text x="165.96" y="82.8" font-family="Liberation Sans" font-size="5.2" font-weight="normal" font-style="normal" fill="#3a3a3a" text-anchor="middle">6.1</text>
<text x="190.86" y="82.8" font-family="Liberation Sans" font-size="5.2" font-weight="normal" font-style="normal" fill="#3a3a3a" text-anchor="middle">6.2</text>
<text x="127.3" y="74.23" font-family="Liberation Sans" font-size="5.2" font-weight="normal" font-style="normal" fill="#3a3a3a" text-anchor="end">-5</text>
<text x="127.3" y="59.43" font-family="Liberation Sans" font-size="5.2" font-weight="normal" font-style="normal" fill="#3a3a3a" text-anchor="end">0</text>
<text x="127.3" y="44.63" font-family="Liberation Sans" font-size="5.2" font-weight="normal" font-style="normal" fill="#3a3a3a" text-anchor="end">5</text>
<text x="161" y="24.8" font-family="Liberation Sans" font-size="8.5" font-weight="normal" font-style="normal" fill="#000" text-anchor="middle">stimulation artifact</text>
<text x="129.5" y="32.3" font-family="Liberation Sans" font-size="4.6" fill="#505050">×10<tspan font-size="3.4" dy="-1.8">-3</tspan></text>
<clipPath id="ci"><rect x="129.1" y="33.4" width="64.5" height="42.1"/></clipPath>
<g clip-path="url(#ci)">
<path d="M129.1 57.56 L129.32 57.56 L129.53 57.56 L129.75 57.56 L129.96 57.56 L130.18 57.56 L130.39 57.56 L130.61 57.56 L130.83 57.56 L131.04 57.56 L131.26 57.56 L131.47 57.56 L131.69 57.56 L131.9 57.56 L132.12 57.56 L132.34 57.56 L132.55 57.56 L132.77 57.56 L132.98 57.56 L133.2 57.56 L133.41 57.56 L133.63 57.56 L133.85 57.56 L134.06 57.56 L134.28 57.56 L134.49 57.56 L134.71 57.56 L134.92 57.56 L135.14 57.56 L135.36 57.56 L135.57 57.56 L135.79 57.56 L136 57.56 L136.22 57.56 L136.43 57.56 L136.65 57.56 L136.87 57.56 L137.08 57.56 L137.3 57.56 L137.51 57.56 L137.73 57.56 L137.94 57.56 L138.16 57.56 L138.38 57.56 L138.59 57.56 L138.81 57.56 L139.02 57.56 L139.24 57.56 L139.45 57.56 L139.67 57.56 L139.89 57.56 L140.1 57.56 L140.32 57.56 L140.53 57.56 L140.75 57.56 L140.96 57.56 L141.18 57.56 L141.4 54.61 L141.61 47.97 L141.83 47.66 L142.04 47.47 L142.26 47.35 L142.47 47.27 L142.69 47.18 L142.91 47.04 L143.12 46.8 L143.34 46.45 L143.55 46.01 L143.77 45.5 L143.98 44.97 L144.2 44.4 L144.42 43.7 L144.63 42.93 L144.85 42.14 L145.06 41.39 L145.28 40.71 L145.49 40.17 L145.71 39.75 L145.93 39.34 L146.14 38.94 L146.36 38.57 L146.57 38.25 L146.79 37.99 L147 37.81 L147.22 37.73 L147.44 37.74 L147.65 37.8 L147.87 37.91 L148.08 38.06 L148.3 38.24 L148.51 38.44 L148.73 38.65 L148.95 38.87 L149.16 39.09 L149.38 39.31 L149.59 39.57 L149.81 39.86 L150.02 40.18 L150.24 40.53 L150.46 40.89 L150.67 41.26 L150.89 41.63 L151.1 42 L151.32 42.37 L151.53 42.71 L151.75 43.03 L151.97 43.32 L152.18 43.55 L152.4 43.76 L152.61 43.96 L152.83 44.17 L153.04 44.42 L153.26 44.72 L153.48 45.09 L153.69 45.56 L153.91 46.41 L154.12 48.13 L154.34 50.2 L154.55 52.07 L154.77 53.89 L154.99 55.69 L155.2 57.27 L155.42 58.57 L155.63 59.84 L155.85 61.06 L156.06 62.24 L156.28 63.35 L156.5 64.41 L156.71 65.39 L156.93 66.29 L157.14 67.1 L157.36 67.81 L157.57 68.42 L157.79 68.92 L158.01 69.38 L158.22 69.83 L158.44 70.27 L158.65 70.69 L158.87 71.08 L159.08 71.45 L159.3 71.79 L159.52 72.09 L159.73 72.36 L159.95 72.58 L160.16 72.75 L160.38 72.88 L160.59 72.94 L160.81 72.95 L161.03 72.9 L161.24 72.8 L161.46 72.66 L161.67 72.49 L161.89 72.29 L162.11 72.06 L162.32 71.82 L162.54 71.58 L162.75 71.33 L162.97 71.08 L163.18 70.86 L163.4 70.65 L163.62 70.45 L163.83 70.26 L164.05 70.07 L164.26 69.87 L164.48 69.68 L164.69 69.48 L164.91 69.28 L165.13 69.08 L165.34 68.88 L165.56 68.68 L165.77 68.48 L165.99 68.28 L166.2 68.09 L166.42 67.89 L166.64 67.69 L166.85 67.5 L167.07 67.31 L167.28 67.12 L167.5 66.93 L167.71 66.75 L167.93 66.57 L168.15 66.39 L168.36 66.21 L168.58 66.04 L168.79 65.87 L169.01 65.7 L169.22 65.53 L169.44 65.37 L169.66 65.2 L169.87 65.04 L170.09 64.87 L170.3 64.71 L170.52 64.55 L170.73 64.39 L170.95 64.23 L171.17 64.08 L171.38 63.93 L171.6 63.78 L171.81 63.63 L172.03 63.48 L172.24 63.34 L172.46 63.19 L172.68 63.06 L172.89 62.92 L173.11 62.79 L173.32 62.65 L173.54 62.53 L173.75 62.4 L173.97 62.27 L174.19 62.15 L174.4 62.02 L174.62 61.9 L174.83 61.78 L175.05 61.66 L175.26 61.54 L175.48 61.42 L175.7 61.3 L175.91 61.19 L176.13 61.08 L176.34 60.97 L176.56 60.86 L176.77 60.76 L176.99 60.66 L177.21 60.56 L177.42 60.46 L177.64 60.37 L177.85 60.28 L178.07 60.2 L178.28 60.12 L178.5 60.04 L178.72 59.97 L178.93 59.89 L179.15 59.82 L179.36 59.75 L179.58 59.67 L179.79 59.6 L180.01 59.53 L180.23 59.46 L180.44 59.4 L180.66 59.33 L180.87 59.26 L181.09 59.2 L181.3 59.14 L181.52 59.07 L181.74 59.01 L181.95 58.95 L182.17 58.9 L182.38 58.84 L182.6 58.79 L182.81 58.74 L183.03 58.69 L183.25 58.64 L183.46 58.59 L183.68 58.55 L183.89 58.5 L184.11 58.46 L184.32 58.42 L184.54 58.39 L184.76 58.35 L184.97 58.32 L185.19 58.29 L185.4 58.26 L185.62 58.23 L185.83 58.21 L186.05 58.18 L186.27 58.15 L186.48 58.12 L186.7 58.09 L186.91 58.07 L187.13 58.04 L187.34 58.01 L187.56 57.99 L187.78 57.96 L187.99 57.93 L188.21 57.91 L188.42 57.89 L188.64 57.86 L188.85 57.84 L189.07 57.82 L189.29 57.79 L189.5 57.77 L189.72 57.75 L189.93 57.73 L190.15 57.72 L190.36 57.7 L190.58 57.68 L190.8 57.67 L191.01 57.65 L191.23 57.64 L191.44 57.62 L191.66 57.61 L191.87 57.6 L192.09 57.59 L192.31 57.58 L192.52 57.58 L192.74 57.57 L192.95 57.56 L193.17 57.56 L193.38 57.56 L193.6 57.56" fill="none" stroke="#2d48ab" stroke-width="1.2" stroke-linecap="butt" stroke-linejoin="round"/>
<path d="M129.1 57.56 L129.32 57.56 L129.53 57.56 L129.75 57.56 L129.96 57.56 L130.18 57.56 L130.39 57.56 L130.61 57.56 L130.83 57.56 L131.04 57.56 L131.26 57.56 L131.47 57.56 L131.69 57.56 L131.9 57.56 L132.12 57.56 L132.34 57.56 L132.55 57.56 L132.77 57.56 L132.98 57.56 L133.2 57.56 L133.41 57.56 L133.63 57.56 L133.85 57.56 L134.06 57.56 L134.28 57.56 L134.49 57.56 L134.71 57.56 L134.92 57.56 L135.14 57.56 L135.36 57.56 L135.57 57.56 L135.79 57.56 L136 57.56 L136.22 57.56 L136.43 57.56 L136.65 57.56 L136.87 57.56 L137.08 57.56 L137.3 57.56 L137.51 57.56 L137.73 57.56 L137.94 57.56 L138.16 57.56 L138.38 57.56 L138.59 57.56 L138.81 57.56 L139.02 57.56 L139.24 57.56 L139.45 57.56 L139.67 57.56 L139.89 57.56 L140.1 57.56 L140.32 57.56 L140.53 57.56 L140.75 57.56 L140.96 57.56 L141.18 57.56 L141.4 56.23 L141.61 52.93 L141.83 52.39 L142.04 52.02 L142.26 51.76 L142.47 51.57 L142.69 51.4 L142.91 51.21 L143.12 50.95 L143.34 50.64 L143.55 50.32 L143.77 49.99 L143.98 49.64 L144.2 49.3 L144.42 48.97 L144.63 48.65 L144.85 48.36 L145.06 48.1 L145.28 47.87 L145.49 47.7 L145.71 47.57 L145.93 47.5 L146.14 47.5 L146.36 47.53 L146.57 47.59 L146.79 47.67 L147 47.77 L147.22 47.88 L147.44 48.01 L147.65 48.14 L147.87 48.28 L148.08 48.42 L148.3 48.55 L148.51 48.67 L148.73 48.79 L148.95 48.89 L149.16 49 L149.38 49.1 L149.59 49.21 L149.81 49.31 L150.02 49.42 L150.24 49.53 L150.46 49.65 L150.67 49.78 L150.89 49.91 L151.1 50.05 L151.32 50.21 L151.53 50.37 L151.75 50.55 L151.97 50.75 L152.18 50.96 L152.4 51.22 L152.61 51.57 L152.83 52.02 L153.04 52.55 L153.26 53.14 L153.48 53.77 L153.69 54.43 L153.91 55.11 L154.12 55.78 L154.34 56.43 L154.55 57.05 L154.77 57.61 L154.99 58.17 L155.2 58.75 L155.42 59.35 L155.63 59.94 L155.85 60.53 L156.06 61.09 L156.28 61.61 L156.5 62.08 L156.71 62.48 L156.93 62.81 L157.14 63.07 L157.36 63.32 L157.57 63.57 L157.79 63.8 L158.01 64.01 L158.22 64.2 L158.44 64.37 L158.65 64.5 L158.87 64.6 L159.08 64.65 L159.3 64.66 L159.52 64.65 L159.73 64.64 L159.95 64.61 L160.16 64.57 L160.38 64.53 L160.59 64.47 L160.81 64.42 L161.03 64.35 L161.24 64.28 L161.46 64.21 L161.67 64.14 L161.89 64.06 L162.11 63.98 L162.32 63.9 L162.54 63.81 L162.75 63.73 L162.97 63.65 L163.18 63.58 L163.4 63.5 L163.62 63.43 L163.83 63.35 L164.05 63.27 L164.26 63.19 L164.48 63.11 L164.69 63.02 L164.91 62.93 L165.13 62.84 L165.34 62.75 L165.56 62.65 L165.77 62.56 L165.99 62.46 L166.2 62.37 L166.42 62.27 L166.64 62.17 L166.85 62.08 L167.07 61.98 L167.28 61.89 L167.5 61.79 L167.71 61.7 L167.93 61.61 L168.15 61.53 L168.36 61.44 L168.58 61.36 L168.79 61.27 L169.01 61.19 L169.22 61.11 L169.44 61.02 L169.66 60.94 L169.87 60.85 L170.09 60.77 L170.3 60.68 L170.52 60.6 L170.73 60.52 L170.95 60.44 L171.17 60.36 L171.38 60.28 L171.6 60.2 L171.81 60.13 L172.03 60.05 L172.24 59.98 L172.46 59.91 L172.68 59.84 L172.89 59.78 L173.11 59.72 L173.32 59.66 L173.54 59.6 L173.75 59.55 L173.97 59.49 L174.19 59.44 L174.4 59.38 L174.62 59.33 L174.83 59.27 L175.05 59.22 L175.26 59.16 L175.48 59.11 L175.7 59.06 L175.91 59.01 L176.13 58.95 L176.34 58.9 L176.56 58.86 L176.77 58.81 L176.99 58.76 L177.21 58.71 L177.42 58.67 L177.64 58.63 L177.85 58.58 L178.07 58.54 L178.28 58.5 L178.5 58.46 L178.72 58.43 L178.93 58.39 L179.15 58.36 L179.36 58.33 L179.58 58.29 L179.79 58.27 L180.01 58.24 L180.23 58.21 L180.44 58.19 L180.66 58.17 L180.87 58.15 L181.09 58.14 L181.3 58.12 L181.52 58.1 L181.74 58.09 L181.95 58.07 L182.17 58.05 L182.38 58.04 L182.6 58.02 L182.81 58 L183.03 57.99 L183.25 57.97 L183.46 57.96 L183.68 57.94 L183.89 57.93 L184.11 57.91 L184.32 57.9 L184.54 57.88 L184.76 57.87 L184.97 57.86 L185.19 57.84 L185.4 57.83 L185.62 57.82 L185.83 57.8 L186.05 57.79 L186.27 57.78 L186.48 57.77 L186.7 57.76 L186.91 57.75 L187.13 57.73 L187.34 57.72 L187.56 57.71 L187.78 57.7 L187.99 57.69 L188.21 57.68 L188.42 57.67 L188.64 57.66 L188.85 57.66 L189.07 57.65 L189.29 57.64 L189.5 57.63 L189.72 57.63 L189.93 57.62 L190.15 57.61 L190.36 57.61 L190.58 57.6 L190.8 57.59 L191.01 57.59 L191.23 57.58 L191.44 57.58 L191.66 57.58 L191.87 57.57 L192.09 57.57 L192.31 57.57 L192.52 57.56 L192.74 57.56 L192.95 57.56 L193.17 57.56 L193.38 57.56 L193.6 57.56" fill="none" stroke="#84c896" stroke-width="1.1" stroke-linecap="butt" stroke-linejoin="round" stroke-dasharray="4 2.5"/>
<path d="M129.1 57.56 L193.6 57.56" fill="none" stroke="#ec1c24" stroke-width="1.2" stroke-linecap="butt" stroke-linejoin="round" stroke-dasharray="3.5 1 1.5 1"/>
</g>
<rect x="167.5" y="97.5" width="40.2" height="32.8" fill="#fff" stroke="#c2c2c2" stroke-width="1"/>
<line x1="170.2" y1="104" x2="186.9" y2="104" stroke="#2d48ab" stroke-width="2.3"/>
<text x="188.1" y="106.81" font-family="Liberation Sans" font-size="7.8" font-weight="normal" font-style="normal" fill="#000" text-anchor="start">1.2 V</text>
<line x1="170.2" y1="114" x2="186.9" y2="114" stroke="#84c896" stroke-width="2.3" stroke-dasharray="7.6 7.5"/>
<text x="188.1" y="116.81" font-family="Liberation Sans" font-size="7.8" font-weight="normal" font-style="normal" fill="#000" text-anchor="start">0.6 V</text>
<line x1="170.2" y1="123.8" x2="186.9" y2="123.8" stroke="#ec1c24" stroke-width="2.3" stroke-dasharray="7.6 1.8 3.6 1.8"/>
<text x="188.1" y="126.61" font-family="Liberation Sans" font-size="7.8" font-weight="normal" font-style="normal" fill="#000" text-anchor="start">0 V</text>
<text x="122" y="8.9" font-family="Liberation Sans" font-size="9.2" font-weight="bold" font-style="normal" fill="#111" text-anchor="middle">electrical recording</text>
<text x="122" y="156.9" font-family="Liberation Sans" font-size="9.2" font-weight="normal" font-style="normal" fill="#3a3a3a" text-anchor="middle">time [ms]</text>
<text x="12.3" y="73" font-family="Liberation Sans" font-size="9.2" font-weight="normal" font-style="normal" fill="#3a3a3a" text-anchor="middle" transform="rotate(-90 12.3 73)">signal [V]</text>
<text x="30.3" y="11.2" font-family="Liberation Sans" font-size="9.1" fill="#505050"><tspan fill="#777">×</tspan><tspan dx="1.0">10</tspan><tspan font-size="6.6" dy="-3.9">-3</tspan></text>
<text x="0.4" y="17.3" font-family="Liberation Sans" font-size="19" font-weight="normal" font-style="normal" fill="#111" text-anchor="start">(a)</text>
<line x1="268.6" y1="132.3" x2="268.6" y2="130.3" stroke="#c2c2c2" stroke-width="1"/>
<line x1="268.6" y1="13.4" x2="268.6" y2="15.4" stroke="#c2c2c2" stroke-width="1"/>
<line x1="305.64" y1="132.3" x2="305.64" y2="130.3" stroke="#c2c2c2" stroke-width="1"/>
<line x1="305.64" y1="13.4" x2="305.64" y2="15.4" stroke="#c2c2c2" stroke-width="1"/>
<line x1="342.68" y1="132.3" x2="342.68" y2="130.3" stroke="#c2c2c2" stroke-width="1"/>
<line x1="342.68" y1="13.4" x2="342.68" y2="15.4" stroke="#c2c2c2" stroke-width="1"/>
<line x1="379.72" y1="132.3" x2="379.72" y2="130.3" stroke="#c2c2c2" stroke-width="1"/>
<line x1="379.72" y1="13.4" x2="379.72" y2="15.4" stroke="#c2c2c2" stroke-width="1"/>
<line x1="416.76" y1="132.3" x2="416.76" y2="130.3" stroke="#c2c2c2" stroke-width="1"/>
<line x1="416.76" y1="13.4" x2="416.76" y2="15.4" stroke="#c2c2c2" stroke-width="1"/>
<line x1="453.8" y1="132.3" x2="453.8" y2="130.3" stroke="#c2c2c2" stroke-width="1"/>
<line x1="453.8" y1="13.4" x2="453.8" y2="15.4" stroke="#c2c2c2" stroke-width="1"/>
<line x1="268.6" y1="132.3" x2="270.6" y2="132.3" stroke="#c2c2c2" stroke-width="1"/>
<line x1="453.8" y1="132.3" x2="451.8" y2="132.3" stroke="#c2c2c2" stroke-width="1"/>
<line x1="268.6" y1="102.58" x2="270.6" y2="102.58" stroke="#c2c2c2" stroke-width="1"/>
<line x1="453.8" y1="102.58" x2="451.8" y2="102.58" stroke="#c2c2c2" stroke-width="1"/>
<line x1="268.6" y1="72.85" x2="270.6" y2="72.85" stroke="#c2c2c2" stroke-width="1"/>
<line x1="453.8" y1="72.85" x2="451.8" y2="72.85" stroke="#c2c2c2" stroke-width="1"/>
<line x1="268.6" y1="43.12" x2="270.6" y2="43.12" stroke="#c2c2c2" stroke-width="1"/>
<line x1="453.8" y1="43.12" x2="451.8" y2="43.12" stroke="#c2c2c2" stroke-width="1"/>
<line x1="268.6" y1="13.4" x2="270.6" y2="13.4" stroke="#c2c2c2" stroke-width="1"/>
<line x1="453.8" y1="13.4" x2="451.8" y2="13.4" stroke="#c2c2c2" stroke-width="1"/>
<rect x="268.6" y="13.4" width="185.2" height="118.9" fill="none" stroke="#c2c2c2" stroke-width="1"/>
<text x="268.6" y="144.9" font-family="Liberation Sans" font-size="9.5" font-weight="normal" font-style="normal" fill="#3a3a3a" text-anchor="middle">0</text>
<text x="305.64" y="144.9" font-family="Liberation Sans" font-size="9.5" font-weight="normal" font-style="normal" fill="#3a3a3a" text-anchor="middle">500</text>
<text x="342.68" y="144.9" font-family="Liberation Sans" font-size="9.5" font-weight="normal" font-style="normal" fill="#3a3a3a" text-anchor="middle">1000</text>
<text x="379.72" y="144.9" font-family="Liberation Sans" font-size="9.5" font-weight="normal" font-style="normal" fill="#3a3a3a" text-anchor="middle">1500</text>
<text x="416.76" y="144.9" font-family="Liberation Sans" font-size="9.5" font-weight="normal" font-style="normal" fill="#3a3a3a" text-anchor="middle">2000</text>
<text x="453.8" y="144.9" font-family="Liberation Sans" font-size="9.5" font-weight="normal" font-style="normal" fill="#3a3a3a" text-anchor="middle">2500</text>
<text x="265.6" y="136.42" font-family="Liberation Sans" font-size="9.5" font-weight="normal" font-style="normal" fill="#3a3a3a" text-anchor="end">0</text>
<text x="265.6" y="106.7" font-family="Liberation Sans" font-size="9.5" font-weight="normal" font-style="normal" fill="#3a3a3a" text-anchor="end">1</text>
<text x="265.6" y="76.97" font-family="Liberation Sans" font-size="9.5" font-weight="normal" font-style="normal" fill="#3a3a3a" text-anchor="end">2</text>
<text x="265.6" y="47.25" font-family="Liberation Sans" font-size="9.5" font-weight="normal" font-style="normal" fill="#3a3a3a" text-anchor="end">3</text>
<text x="265.6" y="17.52" font-family="Liberation Sans" font-size="9.5" font-weight="normal" font-style="normal" fill="#3a3a3a" text-anchor="end">4</text>
<clipPath id="cb"><rect x="268.6" y="11.4" width="187.2" height="122.9"/></clipPath>
<g clip-path="url(#cb)">
<path d="M268.6 129.33 L268.97 124.28 L269.34 119.36 L269.71 114.59 L270.08 109.97 L270.46 104.92 L270.83 99.54 L271.2 94.83 L271.57 91.79 L271.94 90.88 L272.31 90.47 L272.68 90.14 L273.05 89.67 L273.42 89.08 L273.8 88.41 L274.17 87.67 L274.54 86.86 L274.91 85.97 L275.28 85 L275.65 83.87 L276.02 82.52 L276.39 81 L276.77 79.32 L277.14 77.52 L277.51 75.64 L277.88 73.71 L278.25 71.76 L278.62 69.81 L278.99 67.91 L279.36 66.09 L279.73 64.37 L280.11 62.79 L280.48 61.39 L280.85 60.14 L281.22 58.93 L281.59 57.73 L281.96 56.57 L282.33 55.44 L282.7 54.35 L283.07 53.3 L283.45 52.3 L283.82 51.35 L284.19 50.46 L284.56 49.62 L284.93 48.85 L285.3 48.15 L285.67 47.53 L286.04 46.93 L286.41 46.33 L286.79 45.74 L287.16 45.15 L287.53 44.58 L287.9 44.02 L288.27 43.48 L288.64 42.97 L289.01 42.48 L289.38 42.03 L289.76 41.62 L290.13 41.25 L290.5 40.92 L290.87 40.65 L291.24 40.43 L291.61 40.27 L291.98 40.18 L292.35 40.15 L292.72 40.19 L293.1 40.28 L293.47 40.42 L293.84 40.6 L294.21 40.82 L294.58 41.08 L294.95 41.38 L295.32 41.7 L295.69 42.04 L296.06 42.41 L296.44 42.78 L296.81 43.17 L297.18 43.57 L297.55 43.96 L297.92 44.36 L298.29 44.75 L298.66 45.12 L299.03 45.49 L299.4 45.83 L299.78 46.15 L300.15 46.48 L300.52 46.84 L300.89 47.23 L301.26 47.63 L301.63 48.05 L302 48.48 L302.37 48.91 L302.75 49.35 L303.12 49.77 L303.49 50.19 L303.86 50.58 L304.23 50.96 L304.6 51.31 L304.97 51.64 L305.34 51.92 L305.71 52.17 L306.09 52.37 L306.46 52.51 L306.83 52.61 L307.2 52.64 L307.57 52.6 L307.94 52.5 L308.31 52.33 L308.68 52.11 L309.05 51.83 L309.43 51.5 L309.8 51.14 L310.17 50.73 L310.54 50.28 L310.91 49.81 L311.28 49.31 L311.65 48.79 L312.02 48.26 L312.39 47.72 L312.77 47.17 L313.14 46.61 L313.51 46.07 L313.88 45.52 L314.25 45 L314.62 44.48 L314.99 43.93 L315.36 43.32 L315.74 42.66 L316.11 41.96 L316.48 41.22 L316.85 40.46 L317.22 39.67 L317.59 38.88 L317.96 38.08 L318.33 37.28 L318.7 36.49 L319.08 35.72 L319.45 34.98 L319.82 34.27 L320.19 33.61 L320.56 32.99 L320.93 32.42 L321.3 31.92 L321.67 31.49 L322.04 31.14 L322.42 30.81 L322.79 30.48 L323.16 30.15 L323.53 29.83 L323.9 29.52 L324.27 29.22 L324.64 28.93 L325.01 28.66 L325.38 28.41 L325.76 28.18 L326.13 27.98 L326.5 27.8 L326.87 27.65 L327.24 27.53 L327.61 27.44 L327.98 27.39 L328.35 27.37 L328.73 27.4 L329.1 27.46 L329.47 27.56 L329.84 27.69 L330.21 27.85 L330.58 28.04 L330.95 28.25 L331.32 28.49 L331.69 28.75 L332.07 29.03 L332.44 29.32 L332.81 29.63 L333.18 29.94 L333.55 30.27 L333.92 30.6 L334.29 30.94 L334.66 31.28 L335.03 31.62 L335.41 31.95 L335.78 32.32 L336.15 32.73 L336.52 33.18 L336.89 33.66 L337.26 34.17 L337.63 34.71 L338 35.27 L338.37 35.86 L338.75 36.46 L339.12 37.07 L339.49 37.7 L339.86 38.34 L340.23 38.98 L340.6 39.62 L340.97 40.27 L341.34 40.91 L341.72 41.54 L342.09 42.16 L342.46 42.77 L342.83 43.36 L343.2 43.96 L343.57 44.55 L343.94 45.16 L344.31 45.76 L344.68 46.38 L345.06 46.99 L345.43 47.61 L345.8 48.23 L346.17 48.85 L346.54 49.47 L346.91 50.09 L347.28 50.72 L347.65 51.34 L348.02 51.97 L348.4 52.6 L348.77 53.22 L349.14 53.84 L349.51 54.47 L349.88 55.09 L350.25 55.71 L350.62 56.32 L350.99 56.93 L351.36 57.54 L351.74 58.15 L352.11 58.77 L352.48 59.39 L352.85 60.01 L353.22 60.63 L353.59 61.25 L353.96 61.87 L354.33 62.5 L354.71 63.12 L355.08 63.75 L355.45 64.37 L355.82 64.99 L356.19 65.6 L356.56 66.22 L356.93 66.83 L357.3 67.44 L357.67 68.04 L358.05 68.64 L358.42 69.23 L358.79 69.82 L359.16 70.4 L359.53 70.97 L359.9 71.53 L360.27 72.09 L360.64 72.64 L361.01 73.18 L361.39 73.71 L361.76 74.23 L362.13 74.76 L362.5 75.27 L362.87 75.79 L363.24 76.3 L363.61 76.8 L363.98 77.3 L364.35 77.8 L364.73 78.29 L365.1 78.78 L365.47 79.26 L365.84 79.74 L366.21 80.21 L366.58 80.68 L366.95 81.14 L367.32 81.6 L367.69 82.05 L368.07 82.5 L368.44 82.94 L368.81 83.37 L369.18 83.8 L369.55 84.22 L369.92 84.64 L370.29 85.05 L370.66 85.45 L371.04 85.86 L371.41 86.26 L371.78 86.65 L372.15 87.04 L372.52 87.43 L372.89 87.81 L373.26 88.18 L373.63 88.54 L374 88.9 L374.38 89.25 L374.75 89.59 L375.12 89.92 L375.49 90.24 L375.86 90.56 L376.23 90.86 L376.6 91.16 L376.97 91.44 L377.34 91.73 L377.72 92 L378.09 92.28 L378.46 92.54 L378.83 92.8 L379.2 93.06 L379.57 93.31 L379.94 93.56 L380.31 93.8 L380.68 94.04 L381.06 94.28 L381.43 94.51 L381.8 94.74 L382.17 94.97 L382.54 95.19 L382.91 95.41 L383.28 95.62 L383.65 95.83 L384.03 96.03 L384.4 96.23 L384.77 96.43 L385.14 96.62 L385.51 96.8 L385.88 96.99 L386.25 97.17 L386.62 97.36 L386.99 97.54 L387.37 97.73 L387.74 97.91 L388.11 98.1 L388.48 98.29 L388.85 98.49 L389.22 98.68 L389.59 98.89 L389.96 99.09 L390.33 99.31 L390.71 99.53 L391.08 99.75 L391.45 99.98 L391.82 100.22 L392.19 100.46 L392.56 100.71 L392.93 100.96 L393.3 101.22 L393.67 101.48 L394.05 101.74 L394.42 102 L394.79 102.27 L395.16 102.54 L395.53 102.81 L395.9 103.09 L396.27 103.36 L396.64 103.64 L397.02 103.91 L397.39 104.19 L397.76 104.47 L398.13 104.75 L398.5 105.02 L398.87 105.3 L399.24 105.57 L399.61 105.85 L399.98 106.12 L400.36 106.39 L400.73 106.67 L401.1 106.95 L401.47 107.23 L401.84 107.51 L402.21 107.8 L402.58 108.09 L402.95 108.37 L403.32 108.66 L403.7 108.94 L404.07 109.22 L404.44 109.49 L404.81 109.76 L405.18 110.03 L405.55 110.29 L405.92 110.54 L406.29 110.78 L406.66 111.02 L407.04 111.26 L407.41 111.5 L407.78 111.74 L408.15 111.97 L408.52 112.2 L408.89 112.43 L409.26 112.65 L409.63 112.88 L410.01 113.09 L410.38 113.31 L410.75 113.53 L411.12 113.74 L411.49 113.95 L411.86 114.15 L412.23 114.35 L412.6 114.55 L412.97 114.75 L413.35 114.94 L413.72 115.13 L414.09 115.32 L414.46 115.51 L414.83 115.7 L415.2 115.88 L415.57 116.07 L415.94 116.26 L416.31 116.44 L416.69 116.62 L417.06 116.8 L417.43 116.98 L417.8 117.16 L418.17 117.34 L418.54 117.51 L418.91 117.68 L419.28 117.85 L419.65 118.02 L420.03 118.18 L420.4 118.35 L420.77 118.51 L421.14 118.67 L421.51 118.82 L421.88 118.97 L422.25 119.12 L422.62 119.27 L423 119.41 L423.37 119.55 L423.74 119.68 L424.11 119.82 L424.48 119.94 L424.85 120.07 L425.22 120.19 L425.59 120.31 L425.96 120.43 L426.34 120.54 L426.71 120.65 L427.08 120.76 L427.45 120.87 L427.82 120.98 L428.19 121.08 L428.56 121.19 L428.93 121.29 L429.3 121.39 L429.68 121.49 L430.05 121.59 L430.42 121.68 L430.79 121.78 L431.16 121.87 L431.53 121.96 L431.9 122.05 L432.27 122.14 L432.64 122.23 L433.02 122.32 L433.39 122.41 L433.76 122.5 L434.13 122.58 L434.5 122.67 L434.87 122.75 L435.24 122.84 L435.61 122.92 L435.99 123.01 L436.36 123.09 L436.73 123.17 L437.1 123.26 L437.47 123.34 L437.84 123.42 L438.21 123.51 L438.58 123.59 L438.95 123.67 L439.33 123.76 L439.7 123.84 L440.07 123.92 L440.44 124 L440.81 124.09 L441.18 124.17 L441.55 124.25 L441.92 124.33 L442.29 124.41 L442.67 124.49 L443.04 124.57 L443.41 124.65 L443.78 124.72 L444.15 124.8 L444.52 124.88 L444.89 124.96 L445.26 125.03 L445.63 125.11 L446.01 125.18 L446.38 125.26 L446.75 125.33 L447.12 125.41 L447.49 125.48 L447.86 125.55 L448.23 125.63 L448.6 125.7 L448.98 125.77 L449.35 125.84 L449.72 125.91 L450.09 125.98 L450.46 126.05 L450.83 126.12 L451.2 126.19 L451.57 126.26 L451.94 126.32 L452.32 126.39 L452.69 126.46 L453.06 126.52 L453.43 126.59 L453.8 126.65" fill="none" stroke="#2d48ab" stroke-width="2.3" stroke-linecap="butt" stroke-linejoin="round"/>
<path d="M268.6 132.3 L268.97 131.41 L269.34 130.47 L269.71 129.5 L270.08 128.48 L270.46 127.43 L270.83 126.34 L271.2 125.2 L271.57 124 L271.94 122.76 L272.31 121.48 L272.68 120.19 L273.05 118.89 L273.42 117.59 L273.8 116.26 L274.17 114.91 L274.54 113.55 L274.91 112.18 L275.28 110.8 L275.65 109.41 L276.02 108.02 L276.39 106.63 L276.77 105.25 L277.14 103.87 L277.51 102.51 L277.88 101.15 L278.25 99.79 L278.62 98.42 L278.99 97.06 L279.36 95.7 L279.73 94.34 L280.11 92.98 L280.48 91.62 L280.85 90.27 L281.22 88.93 L281.59 87.59 L281.96 86.26 L282.33 84.94 L282.7 83.63 L283.07 82.32 L283.45 81.03 L283.82 79.74 L284.19 78.47 L284.56 77.2 L284.93 75.93 L285.3 74.64 L285.67 73.34 L286.04 72.03 L286.41 70.73 L286.79 69.42 L287.16 68.12 L287.53 66.83 L287.9 65.55 L288.27 64.3 L288.64 63.06 L289.01 61.86 L289.38 60.68 L289.76 59.54 L290.13 58.45 L290.5 57.39 L290.87 56.38 L291.24 55.4 L291.61 54.42 L291.98 53.45 L292.35 52.5 L292.72 51.55 L293.1 50.62 L293.47 49.7 L293.84 48.81 L294.21 47.93 L294.58 47.07 L294.95 46.24 L295.32 45.43 L295.69 44.65 L296.06 43.89 L296.44 43.17 L296.81 42.48 L297.18 41.82 L297.55 41.2 L297.92 40.61 L298.29 40.07 L298.66 39.53 L299.03 38.99 L299.4 38.45 L299.78 37.91 L300.15 37.37 L300.52 36.83 L300.89 36.3 L301.26 35.78 L301.63 35.27 L302 34.77 L302.37 34.28 L302.75 33.81 L303.12 33.36 L303.49 32.92 L303.86 32.51 L304.23 32.13 L304.6 31.77 L304.97 31.44 L305.34 31.13 L305.71 30.87 L306.09 30.63 L306.46 30.43 L306.83 30.27 L307.2 30.15 L307.57 30.08 L307.94 30.05 L308.31 30.05 L308.68 30.06 L309.05 30.07 L309.43 30.09 L309.8 30.11 L310.17 30.14 L310.54 30.18 L310.91 30.21 L311.28 30.26 L311.65 30.3 L312.02 30.36 L312.39 30.41 L312.77 30.47 L313.14 30.53 L313.51 30.59 L313.88 30.66 L314.25 30.73 L314.62 30.8 L314.99 30.87 L315.36 30.95 L315.74 31.02 L316.11 31.1 L316.48 31.18 L316.85 31.26 L317.22 31.34 L317.59 31.44 L317.96 31.55 L318.33 31.67 L318.7 31.81 L319.08 31.96 L319.45 32.13 L319.82 32.32 L320.19 32.53 L320.56 32.82 L320.93 33.17 L321.3 33.59 L321.67 34.04 L322.04 34.53 L322.42 35.04 L322.79 35.55 L323.16 36.05 L323.53 36.54 L323.9 37 L324.27 37.47 L324.64 37.94 L325.01 38.41 L325.38 38.89 L325.76 39.37 L326.13 39.85 L326.5 40.34 L326.87 40.83 L327.24 41.32 L327.61 41.83 L327.98 42.33 L328.35 42.85 L328.73 43.36 L329.1 43.89 L329.47 44.42 L329.84 44.96 L330.21 45.51 L330.58 46.07 L330.95 46.63 L331.32 47.2 L331.69 47.78 L332.07 48.38 L332.44 49 L332.81 49.63 L333.18 50.28 L333.55 50.94 L333.92 51.61 L334.29 52.29 L334.66 52.98 L335.03 53.67 L335.41 54.37 L335.78 55.08 L336.15 55.78 L336.52 56.49 L336.89 57.2 L337.26 57.9 L337.63 58.6 L338 59.29 L338.37 59.97 L338.75 60.65 L339.12 61.32 L339.49 62.01 L339.86 62.71 L340.23 63.41 L340.6 64.12 L340.97 64.83 L341.34 65.54 L341.72 66.25 L342.09 66.95 L342.46 67.66 L342.83 68.35 L343.2 69.04 L343.57 69.72 L343.94 70.39 L344.31 71.04 L344.68 71.68 L345.06 72.29 L345.43 72.89 L345.8 73.47 L346.17 74.03 L346.54 74.56 L346.91 75.07 L347.28 75.58 L347.65 76.08 L348.02 76.56 L348.4 77.04 L348.77 77.51 L349.14 77.97 L349.51 78.42 L349.88 78.87 L350.25 79.3 L350.62 79.74 L350.99 80.16 L351.36 80.58 L351.74 81 L352.11 81.41 L352.48 81.81 L352.85 82.21 L353.22 82.61 L353.59 83.01 L353.96 83.4 L354.33 83.79 L354.71 84.18 L355.08 84.57 L355.45 84.96 L355.82 85.35 L356.19 85.74 L356.56 86.13 L356.93 86.52 L357.3 86.91 L357.67 87.31 L358.05 87.71 L358.42 88.1 L358.79 88.5 L359.16 88.91 L359.53 89.31 L359.9 89.71 L360.27 90.11 L360.64 90.51 L361.01 90.91 L361.39 91.31 L361.76 91.71 L362.13 92.1 L362.5 92.49 L362.87 92.88 L363.24 93.27 L363.61 93.64 L363.98 94.02 L364.35 94.39 L364.73 94.75 L365.1 95.11 L365.47 95.46 L365.84 95.81 L366.21 96.14 L366.58 96.47 L366.95 96.8 L367.32 97.11 L367.69 97.41 L368.07 97.71 L368.44 97.99 L368.81 98.26 L369.18 98.53 L369.55 98.8 L369.92 99.06 L370.29 99.31 L370.66 99.56 L371.04 99.81 L371.41 100.05 L371.78 100.29 L372.15 100.53 L372.52 100.76 L372.89 100.99 L373.26 101.22 L373.63 101.44 L374 101.66 L374.38 101.88 L374.75 102.09 L375.12 102.3 L375.49 102.51 L375.86 102.72 L376.23 102.92 L376.6 103.12 L376.97 103.32 L377.34 103.52 L377.72 103.72 L378.09 103.91 L378.46 104.11 L378.83 104.3 L379.2 104.49 L379.57 104.68 L379.94 104.87 L380.31 105.06 L380.68 105.25 L381.06 105.44 L381.43 105.62 L381.8 105.81 L382.17 106 L382.54 106.18 L382.91 106.37 L383.28 106.55 L383.65 106.73 L384.03 106.92 L384.4 107.1 L384.77 107.27 L385.14 107.45 L385.51 107.63 L385.88 107.8 L386.25 107.98 L386.62 108.15 L386.99 108.32 L387.37 108.49 L387.74 108.66 L388.11 108.83 L388.48 108.99 L388.85 109.16 L389.22 109.33 L389.59 109.49 L389.96 109.65 L390.33 109.82 L390.71 109.98 L391.08 110.14 L391.45 110.3 L391.82 110.46 L392.19 110.62 L392.56 110.77 L392.93 110.93 L393.3 111.09 L393.67 111.25 L394.05 111.4 L394.42 111.56 L394.79 111.71 L395.16 111.87 L395.53 112.02 L395.9 112.18 L396.27 112.33 L396.64 112.48 L397.02 112.64 L397.39 112.79 L397.76 112.94 L398.13 113.09 L398.5 113.25 L398.87 113.4 L399.24 113.55 L399.61 113.7 L399.98 113.86 L400.36 114.01 L400.73 114.16 L401.1 114.31 L401.47 114.47 L401.84 114.62 L402.21 114.77 L402.58 114.92 L402.95 115.08 L403.32 115.23 L403.7 115.38 L404.07 115.53 L404.44 115.68 L404.81 115.83 L405.18 115.98 L405.55 116.13 L405.92 116.27 L406.29 116.42 L406.66 116.57 L407.04 116.71 L407.41 116.86 L407.78 117 L408.15 117.15 L408.52 117.29 L408.89 117.43 L409.26 117.57 L409.63 117.71 L410.01 117.84 L410.38 117.98 L410.75 118.12 L411.12 118.25 L411.49 118.38 L411.86 118.51 L412.23 118.64 L412.6 118.77 L412.97 118.9 L413.35 119.02 L413.72 119.14 L414.09 119.27 L414.46 119.39 L414.83 119.51 L415.2 119.62 L415.57 119.74 L415.94 119.86 L416.31 119.97 L416.69 120.08 L417.06 120.2 L417.43 120.31 L417.8 120.42 L418.17 120.53 L418.54 120.64 L418.91 120.75 L419.28 120.86 L419.65 120.97 L420.03 121.07 L420.4 121.18 L420.77 121.29 L421.14 121.39 L421.51 121.5 L421.88 121.61 L422.25 121.71 L422.62 121.82 L423 121.92 L423.37 122.03 L423.74 122.13 L424.11 122.24 L424.48 122.35 L424.85 122.45 L425.22 122.56 L425.59 122.67 L425.96 122.78 L426.34 122.89 L426.71 123 L427.08 123.11 L427.45 123.22 L427.82 123.33 L428.19 123.44 L428.56 123.55 L428.93 123.66 L429.3 123.77 L429.68 123.89 L430.05 124 L430.42 124.11 L430.79 124.22 L431.16 124.33 L431.53 124.44 L431.9 124.55 L432.27 124.65 L432.64 124.76 L433.02 124.87 L433.39 124.97 L433.76 125.08 L434.13 125.18 L434.5 125.28 L434.87 125.38 L435.24 125.48 L435.61 125.57 L435.99 125.67 L436.36 125.76 L436.73 125.85 L437.1 125.94 L437.47 126.03 L437.84 126.11 L438.21 126.19 L438.58 126.27 L438.95 126.35 L439.33 126.42 L439.7 126.5 L440.07 126.57 L440.44 126.65 L440.81 126.72 L441.18 126.79 L441.55 126.86 L441.92 126.94 L442.29 127.01 L442.67 127.08 L443.04 127.15 L443.41 127.21 L443.78 127.28 L444.15 127.35 L444.52 127.41 L444.89 127.48 L445.26 127.54 L445.63 127.61 L446.01 127.67 L446.38 127.73 L446.75 127.79 L447.12 127.85 L447.49 127.91 L447.86 127.97 L448.23 128.02 L448.6 128.08 L448.98 128.13 L449.35 128.19 L449.72 128.24 L450.09 128.29 L450.46 128.34 L450.83 128.39 L451.2 128.44 L451.57 128.48 L451.94 128.53 L452.32 128.57 L452.69 128.61 L453.06 128.66 L453.43 128.69 L453.8 128.73" fill="none" stroke="#84c896" stroke-width="2.3" stroke-linecap="butt" stroke-linejoin="round" stroke-dasharray="7.5 5"/>
<path d="M268.6 132.3 L269.06 131.58 L269.53 130.84 L269.99 130.09 L270.46 129.32 L270.92 128.36 L271.38 127.31 L271.85 126.53 L272.31 126.41 L272.78 127.11 L273.24 128.2 L273.71 129.2 L274.17 129.62 L274.63 129.6 L275.1 129.54 L275.56 129.46 L276.03 129.38 L276.49 129.34 L276.95 129.38 L277.42 129.83 L277.88 130.51 L278.35 131.2 L278.81 131.65 L279.28 131.75 L279.74 131.8 L280.2 131.84 L280.67 131.88 L281.13 131.91 L281.6 131.93 L282.06 131.95 L282.52 131.97 L282.99 131.99 L283.45 132 L283.92 132.02 L284.38 132.04 L284.85 132.05 L285.31 132.07 L285.77 132.08 L286.24 132.09 L286.7 132.11 L287.17 132.12 L287.63 132.13 L288.09 132.15 L288.56 132.16 L289.02 132.17 L289.49 132.18 L289.95 132.19 L290.42 132.21 L290.88 132.22 L291.34 132.23 L291.81 132.23 L292.27 132.24 L292.74 132.25 L293.2 132.26 L293.66 132.27 L294.13 132.27 L294.59 132.28 L295.06 132.28 L295.52 132.29 L295.99 132.29 L296.45 132.29 L296.91 132.3 L297.38 132.3 L297.84 132.3 L298.31 132.3 L298.77 132.3 L299.23 132.3 L299.7 132.3 L300.16 132.3 L300.63 132.3 L301.09 132.3 L301.56 132.3 L302.02 132.3 L302.48 132.3 L302.95 132.3 L303.41 132.3 L303.88 132.3 L304.34 132.3 L304.8 132.3 L305.27 132.3 L305.73 132.3 L306.2 132.3 L306.66 132.3 L307.13 132.3 L307.59 132.3 L308.05 132.3 L308.52 132.3 L308.98 132.3 L309.45 132.3 L309.91 132.3 L310.37 132.3 L310.84 132.3 L311.3 132.3 L311.77 132.3 L312.23 132.3 L312.7 132.3 L313.16 132.3 L313.62 132.3 L314.09 132.3 L314.55 132.3 L315.02 132.3 L315.48 132.3 L315.94 132.3 L316.41 132.3 L316.87 132.3 L317.34 132.3 L317.8 132.3 L318.27 132.3 L318.73 132.3 L319.19 132.3 L319.66 132.3 L320.12 132.3 L320.59 132.3 L321.05 132.3 L321.51 132.3 L321.98 132.3 L322.44 132.3 L322.91 132.3 L323.37 132.3 L323.84 132.3 L324.3 132.3 L324.76 132.3 L325.23 132.3 L325.69 132.3 L326.16 132.3 L326.62 132.3 L327.08 132.3 L327.55 132.3 L328.01 132.3 L328.48 132.3 L328.94 132.3 L329.41 132.3 L329.87 132.3 L330.33 132.3 L330.8 132.3 L331.26 132.3 L331.73 132.3 L332.19 132.3 L332.65 132.3 L333.12 132.3 L333.58 132.3 L334.05 132.3 L334.51 132.3 L334.97 132.3 L335.44 132.3 L335.9 132.3 L336.37 132.3 L336.83 132.3 L337.3 132.3 L337.76 132.3 L338.22 132.3 L338.69 132.3 L339.15 132.3 L339.62 132.3 L340.08 132.3 L340.54 132.3 L341.01 132.3 L341.47 132.3 L341.94 132.3 L342.4 132.3 L342.87 132.3 L343.33 132.3 L343.79 132.3 L344.26 132.3 L344.72 132.3 L345.19 132.3 L345.65 132.3 L346.11 132.3 L346.58 132.3 L347.04 132.3 L347.51 132.3 L347.97 132.3 L348.44 132.3 L348.9 132.3 L349.36 132.3 L349.83 132.3 L350.29 132.3 L350.76 132.3 L351.22 132.3 L351.68 132.3 L352.15 132.3 L352.61 132.3 L353.08 132.3 L353.54 132.3 L354.01 132.3 L354.47 132.3 L354.93 132.3 L355.4 132.3 L355.86 132.3 L356.33 132.3 L356.79 132.3 L357.25 132.3 L357.72 132.3 L358.18 132.3 L358.65 132.3 L359.11 132.3 L359.58 132.3 L360.04 132.3 L360.5 132.3 L360.97 132.3 L361.43 132.3 L361.9 132.3 L362.36 132.3 L362.82 132.3 L363.29 132.3 L363.75 132.3 L364.22 132.3 L364.68 132.3 L365.15 132.3 L365.61 132.3 L366.07 132.3 L366.54 132.3 L367 132.3 L367.47 132.3 L367.93 132.3 L368.39 132.3 L368.86 132.3 L369.32 132.3 L369.79 132.3 L370.25 132.3 L370.72 132.3 L371.18 132.3 L371.64 132.3 L372.11 132.3 L372.57 132.3 L373.04 132.3 L373.5 132.3 L373.96 132.3 L374.43 132.3 L374.89 132.3 L375.36 132.3 L375.82 132.3 L376.29 132.3 L376.75 132.3 L377.21 132.3 L377.68 132.3 L378.14 132.3 L378.61 132.3 L379.07 132.3 L379.53 132.3 L380 132.3 L380.46 132.3 L380.93 132.3 L381.39 132.3 L381.86 132.3 L382.32 132.3 L382.78 132.3 L383.25 132.3 L383.71 132.3 L384.18 132.3 L384.64 132.3 L385.1 132.3 L385.57 132.3 L386.03 132.3 L386.5 132.3 L386.96 132.3 L387.43 132.3 L387.89 132.3 L388.35 132.3 L388.82 132.3 L389.28 132.3 L389.75 132.3 L390.21 132.3 L390.67 132.3 L391.14 132.3 L391.6 132.3 L392.07 132.3 L392.53 132.3 L392.99 132.3 L393.46 132.3 L393.92 132.3 L394.39 132.3 L394.85 132.3 L395.32 132.3 L395.78 132.3 L396.24 132.3 L396.71 132.3 L397.17 132.3 L397.64 132.3 L398.1 132.3 L398.56 132.3 L399.03 132.3 L399.49 132.3 L399.96 132.3 L400.42 132.3 L400.89 132.3 L401.35 132.3 L401.81 132.3 L402.28 132.3 L402.74 132.3 L403.21 132.3 L403.67 132.3 L404.13 132.3 L404.6 132.3 L405.06 132.3 L405.53 132.3 L405.99 132.3 L406.46 132.3 L406.92 132.3 L407.38 132.3 L407.85 132.3 L408.31 132.3 L408.78 132.3 L409.24 132.3 L409.7 132.3 L410.17 132.3 L410.63 132.3 L411.1 132.3 L411.56 132.3 L412.03 132.3 L412.49 132.3 L412.95 132.3 L413.42 132.3 L413.88 132.3 L414.35 132.3 L414.81 132.3 L415.27 132.3 L415.74 132.3 L416.2 132.3 L416.67 132.3 L417.13 132.3 L417.6 132.3 L418.06 132.3 L418.52 132.3 L418.99 132.3 L419.45 132.3 L419.92 132.3 L420.38 132.3 L420.84 132.3 L421.31 132.3 L421.77 132.3 L422.24 132.3 L422.7 132.3 L423.17 132.3 L423.63 132.3 L424.09 132.3 L424.56 132.3 L425.02 132.3 L425.49 132.3 L425.95 132.3 L426.41 132.3 L426.88 132.3 L427.34 132.3 L427.81 132.3 L428.27 132.3 L428.74 132.3 L429.2 132.3 L429.66 132.3 L430.13 132.3 L430.59 132.3 L431.06 132.3 L431.52 132.3 L431.98 132.3 L432.45 132.3 L432.91 132.3 L433.38 132.3 L433.84 132.3 L434.31 132.3 L434.77 132.3 L435.23 132.3 L435.7 132.3 L436.16 132.3 L436.63 132.3 L437.09 132.3 L437.55 132.3 L438.02 132.3 L438.48 132.3 L438.95 132.3 L439.41 132.3 L439.88 132.3 L440.34 132.3 L440.8 132.3 L441.27 132.3 L441.73 132.3 L442.2 132.3 L442.66 132.3 L443.12 132.3 L443.59 132.3 L444.05 132.3 L444.52 132.3 L444.98 132.3 L445.45 132.3 L445.91 132.3 L446.37 132.3 L446.84 132.3 L447.3 132.3 L447.77 132.3 L448.23 132.3 L448.69 132.3 L449.16 132.3 L449.62 132.3 L450.09 132.3 L450.55 132.3 L451.02 132.3 L451.48 132.3 L451.94 132.3 L452.41 132.3 L452.87 132.3 L453.34 132.3 L453.8 132.3" fill="none" stroke="#ec1c24" stroke-width="2.3" stroke-linecap="butt" stroke-linejoin="round" stroke-dasharray="6.4 1.5 3.0 1.5"/>
</g>
<rect x="407.8" y="18.2" width="41" height="32.3" fill="#fff" stroke="#c2c2c2" stroke-width="1"/>
<line x1="411" y1="24.1" x2="426.8" y2="24.1" stroke="#2d48ab" stroke-width="2.3"/>
<text x="428.9" y="26.91" font-family="Liberation Sans" font-size="7.8" font-weight="normal" font-style="normal" fill="#000" text-anchor="start">1.2 V</text>
<line x1="411" y1="34" x2="426.8" y2="34" stroke="#84c896" stroke-width="2.3" stroke-dasharray="7.6 7.5"/>
<text x="428.9" y="36.81" font-family="Liberation Sans" font-size="7.8" font-weight="normal" font-style="normal" fill="#000" text-anchor="start">0.6 V</text>
<line x1="411" y1="44.6" x2="426.8" y2="44.6" stroke="#ec1c24" stroke-width="2.3" stroke-dasharray="7.6 1.8 3.6 1.8"/>
<text x="428.9" y="47.41" font-family="Liberation Sans" font-size="7.8" font-weight="normal" font-style="normal" fill="#000" text-anchor="start">0 V</text>
<text x="361.2" y="8.9" font-family="Liberation Sans" font-size="9.2" font-weight="bold" font-style="normal" fill="#111" text-anchor="middle">electrical recording</text>
<text x="361.2" y="156.9" font-family="Liberation Sans" font-size="9.2" font-weight="normal" font-style="normal" fill="#3a3a3a" text-anchor="middle">frequency [Hz]</text>
<text x="268.6" y="10.9" font-family="Liberation Sans" font-size="9.1" fill="#505050">x 10<tspan font-size="6.6" dy="-3.9">-5</tspan></text>
<text x="228.2" y="15.7" font-family="Liberation Sans" font-size="19" font-weight="normal" font-style="normal" fill="#111" text-anchor="start">(b)</text>
<line x1="507.5" y1="132.3" x2="507.5" y2="130.3" stroke="#c2c2c2" stroke-width="1"/>
<line x1="507.5" y1="13.4" x2="507.5" y2="15.4" stroke="#c2c2c2" stroke-width="1"/>
<line x1="538.33" y1="132.3" x2="538.33" y2="130.3" stroke="#c2c2c2" stroke-width="1"/>
<line x1="538.33" y1="13.4" x2="538.33" y2="15.4" stroke="#c2c2c2" stroke-width="1"/>
<line x1="569.17" y1="132.3" x2="569.17" y2="130.3" stroke="#c2c2c2" stroke-width="1"/>
<line x1="569.17" y1="13.4" x2="569.17" y2="15.4" stroke="#c2c2c2" stroke-width="1"/>
<line x1="600" y1="132.3" x2="600" y2="130.3" stroke="#c2c2c2" stroke-width="1"/>
<line x1="600" y1="13.4" x2="600" y2="15.4" stroke="#c2c2c2" stroke-width="1"/>
<line x1="630.83" y1="132.3" x2="630.83" y2="130.3" stroke="#c2c2c2" stroke-width="1"/>
<line x1="630.83" y1="13.4" x2="630.83" y2="15.4" stroke="#c2c2c2" stroke-width="1"/>
<line x1="661.67" y1="132.3" x2="661.67" y2="130.3" stroke="#c2c2c2" stroke-width="1"/>
<line x1="661.67" y1="13.4" x2="661.67" y2="15.4" stroke="#c2c2c2" stroke-width="1"/>
<line x1="692.5" y1="132.3" x2="692.5" y2="130.3" stroke="#c2c2c2" stroke-width="1"/>
<line x1="692.5" y1="13.4" x2="692.5" y2="15.4" stroke="#c2c2c2" stroke-width="1"/>
<line x1="507.5" y1="132.3" x2="509.5" y2="132.3" stroke="#c2c2c2" stroke-width="1"/>
<line x1="692.5" y1="132.3" x2="690.5" y2="132.3" stroke="#c2c2c2" stroke-width="1"/>
<line x1="507.5" y1="102.58" x2="509.5" y2="102.58" stroke="#c2c2c2" stroke-width="1"/>
<line x1="692.5" y1="102.58" x2="690.5" y2="102.58" stroke="#c2c2c2" stroke-width="1"/>
<line x1="507.5" y1="72.85" x2="509.5" y2="72.85" stroke="#c2c2c2" stroke-width="1"/>
<line x1="692.5" y1="72.85" x2="690.5" y2="72.85" stroke="#c2c2c2" stroke-width="1"/>
<line x1="507.5" y1="43.12" x2="509.5" y2="43.12" stroke="#c2c2c2" stroke-width="1"/>
<line x1="692.5" y1="43.12" x2="690.5" y2="43.12" stroke="#c2c2c2" stroke-width="1"/>
<line x1="507.5" y1="13.4" x2="509.5" y2="13.4" stroke="#c2c2c2" stroke-width="1"/>
<line x1="692.5" y1="13.4" x2="690.5" y2="13.4" stroke="#c2c2c2" stroke-width="1"/>
<rect x="507.5" y="13.4" width="185" height="118.9" fill="none" stroke="#c2c2c2" stroke-width="1"/>
<text x="507.5" y="144.9" font-family="Liberation Sans" font-size="9.5" font-weight="normal" font-style="normal" fill="#3a3a3a" text-anchor="middle">0</text>
<text x="538.33" y="144.9" font-family="Liberation Sans" font-size="9.5" font-weight="normal" font-style="normal" fill="#3a3a3a" text-anchor="middle">0.2</text>
<text x="569.17" y="144.9" font-family="Liberation Sans" font-size="9.5" font-weight="normal" font-style="normal" fill="#3a3a3a" text-anchor="middle">0.4</text>
<text x="600" y="144.9" font-family="Liberation Sans" font-size="9.5" font-weight="normal" font-style="normal" fill="#3a3a3a" text-anchor="middle">0.6</text>
<text x="630.83" y="144.9" font-family="Liberation Sans" font-size="9.5" font-weight="normal" font-style="normal" fill="#3a3a3a" text-anchor="middle">0.8</text>
<text x="661.67" y="144.9" font-family="Liberation Sans" font-size="9.5" font-weight="normal" font-style="normal" fill="#3a3a3a" text-anchor="middle">1</text>
<text x="692.5" y="144.9" font-family="Liberation Sans" font-size="9.5" font-weight="normal" font-style="normal" fill="#3a3a3a" text-anchor="middle">1.2</text>
<text x="504.5" y="136.42" font-family="Liberation Sans" font-size="9.5" font-weight="normal" font-style="normal" fill="#3a3a3a" text-anchor="end">0</text>
<text x="504.5" y="106.7" font-family="Liberation Sans" font-size="9.5" font-weight="normal" font-style="normal" fill="#3a3a3a" text-anchor="end">1</text>
<text x="504.5" y="76.97" font-family="Liberation Sans" font-size="9.5" font-weight="normal" font-style="normal" fill="#3a3a3a" text-anchor="end">2</text>
<text x="504.5" y="47.25" font-family="Liberation Sans" font-size="9.5" font-weight="normal" font-style="normal" fill="#3a3a3a" text-anchor="end">3</text>
<text x="504.5" y="17.52" font-family="Liberation Sans" font-size="9.5" font-weight="normal" font-style="normal" fill="#3a3a3a" text-anchor="end">4</text>
<rect x="506.15" y="129.91" width="2.7" height="2.7" fill="#ec1c24"/>
<rect x="536.98" y="129.91" width="2.7" height="2.7" fill="#ec1c24"/>
<rect x="567.82" y="129.76" width="2.7" height="2.7" fill="#ec1c24"/>
<rect x="598.65" y="130.06" width="2.7" height="2.7" fill="#ec1c24"/>
<rect x="629.48" y="130.06" width="2.7" height="2.7" fill="#ec1c24"/>
<rect x="660.32" y="130.06" width="2.7" height="2.7" fill="#ec1c24"/>
<rect x="691.15" y="130.06" width="2.7" height="2.7" fill="#ec1c24"/>
<circle cx="507.5" cy="132.3" r="1.85" fill="#2d48ab"/>
<circle cx="522.92" cy="132.3" r="1.85" fill="#2d48ab"/>
<circle cx="538.33" cy="132.3" r="1.85" fill="#2d48ab"/>
<circle cx="553.75" cy="132.3" r="1.85" fill="#2d48ab"/>
<circle cx="569.17" cy="116.55" r="1.85" fill="#2d48ab"/>
<circle cx="584.58" cy="66.91" r="1.85" fill="#2d48ab"/>
<circle cx="600" cy="44.61" r="1.85" fill="#2d48ab"/>
<circle cx="630.83" cy="43.12" r="1.85" fill="#2d48ab"/>
<circle cx="661.67" cy="48.18" r="1.85" fill="#2d48ab"/>
<circle cx="692.5" cy="43.72" r="1.85" fill="#2d48ab"/>
<rect x="513.1" y="18.4" width="72.6" height="21.8" fill="#fff" stroke="#c2c2c2" stroke-width="1"/>
<circle cx="524" cy="23.9" r="1.8" fill="#2d48ab"/>
<rect x="522.6" y="32.5" width="3.2" height="3.2" fill="#ec1c24"/>
<text x="533.4" y="27.1" font-family="Liberation Sans" font-size="7.8" font-weight="normal" font-style="normal" fill="#000" text-anchor="start">saline solution</text>
<text x="533.4" y="37" font-family="Liberation Sans" font-size="7.8" font-weight="normal" font-style="normal" fill="#000" text-anchor="start">high K solution</text>
<text x="600" y="8.9" font-family="Liberation Sans" font-size="9.2" font-weight="bold" font-style="normal" fill="#111" text-anchor="middle">electrical recording</text>
<text x="600" y="156.9" font-family="Liberation Sans" font-size="9.2" font-weight="normal" font-style="normal" fill="#3a3a3a" text-anchor="middle">stimulation voltage [V]</text>
<text x="507.5" y="10.9" font-family="Liberation Sans" font-size="9.1" fill="#505050">x 10<tspan font-size="6.6" dy="-3.9">-5</tspan></text>
<text x="465.1" y="15.7" font-family="Liberation Sans" font-size="19" font-weight="normal" font-style="normal" fill="#111" text-anchor="start">(c)</text>
<line x1="29.5" y1="293.2" x2="29.5" y2="291.2" stroke="#c2c2c2" stroke-width="1"/>
<line x1="29.5" y1="173.5" x2="29.5" y2="175.5" stroke="#c2c2c2" stroke-width="1"/>
<line x1="91.17" y1="293.2" x2="91.17" y2="291.2" stroke="#c2c2c2" stroke-width="1"/>
<line x1="91.17" y1="173.5" x2="91.17" y2="175.5" stroke="#c2c2c2" stroke-width="1"/>
<line x1="152.83" y1="293.2" x2="152.83" y2="291.2" stroke="#c2c2c2" stroke-width="1"/>
<line x1="152.83" y1="173.5" x2="152.83" y2="175.5" stroke="#c2c2c2" stroke-width="1"/>
<line x1="214.5" y1="293.2" x2="214.5" y2="291.2" stroke="#c2c2c2" stroke-width="1"/>
<line x1="214.5" y1="173.5" x2="214.5" y2="175.5" stroke="#c2c2c2" stroke-width="1"/>
<line x1="29.5" y1="293.2" x2="31.5" y2="293.2" stroke="#c2c2c2" stroke-width="1"/>
<line x1="214.5" y1="293.2" x2="212.5" y2="293.2" stroke="#c2c2c2" stroke-width="1"/>
<line x1="29.5" y1="263.27" x2="31.5" y2="263.27" stroke="#c2c2c2" stroke-width="1"/>
<line x1="214.5" y1="263.27" x2="212.5" y2="263.27" stroke="#c2c2c2" stroke-width="1"/>
<line x1="29.5" y1="233.35" x2="31.5" y2="233.35" stroke="#c2c2c2" stroke-width="1"/>
<line x1="214.5" y1="233.35" x2="212.5" y2="233.35" stroke="#c2c2c2" stroke-width="1"/>
<line x1="29.5" y1="203.43" x2="31.5" y2="203.43" stroke="#c2c2c2" stroke-width="1"/>
<line x1="214.5" y1="203.43" x2="212.5" y2="203.43" stroke="#c2c2c2" stroke-width="1"/>
<line x1="29.5" y1="173.5" x2="31.5" y2="173.5" stroke="#c2c2c2" stroke-width="1"/>
<line x1="214.5" y1="173.5" x2="212.5" y2="173.5" stroke="#c2c2c2" stroke-width="1"/>
<rect x="29.5" y="173.5" width="185" height="119.7" fill="none" stroke="#c2c2c2" stroke-width="1"/>
<text x="29.5" y="305.8" font-family="Liberation Sans" font-size="9.5" font-weight="normal" font-style="normal" fill="#3a3a3a" text-anchor="middle">11</text>
<text x="91.17" y="305.8" font-family="Liberation Sans" font-size="9.5" font-weight="normal" font-style="normal" fill="#3a3a3a" text-anchor="middle">17</text>
<text x="152.83" y="305.8" font-family="Liberation Sans" font-size="9.5" font-weight="normal" font-style="normal" fill="#3a3a3a" text-anchor="middle">23</text>
<text x="214.5" y="305.8" font-family="Liberation Sans" font-size="9.5" font-weight="normal" font-style="normal" fill="#3a3a3a" text-anchor="middle">29</text>
<text x="26.5" y="297.32" font-family="Liberation Sans" font-size="9.5" font-weight="normal" font-style="normal" fill="#3a3a3a" text-anchor="end">-4</text>
<text x="26.5" y="267.39" font-family="Liberation Sans" font-size="9.5" font-weight="normal" font-style="normal" fill="#3a3a3a" text-anchor="end">-2</text>
<text x="26.5" y="237.47" font-family="Liberation Sans" font-size="9.5" font-weight="normal" font-style="normal" fill="#3a3a3a" text-anchor="end">0</text>
<text x="26.5" y="207.54" font-family="Liberation Sans" font-size="9.5" font-weight="normal" font-style="normal" fill="#3a3a3a" text-anchor="end">2</text>
<text x="26.5" y="177.62" font-family="Liberation Sans" font-size="9.5" font-weight="normal" font-style="normal" fill="#3a3a3a" text-anchor="end">4</text>
<clipPath id="cd"><rect x="29.5" y="173.5" width="185" height="119.7"/></clipPath>
<g clip-path="url(#cd)">
<path d="M29.5 283.95 L30.42 277.15 L31.35 261.63 L32.27 246.25 L33.2 232.65 L34.12 218.13 L35.05 204.43 L35.97 192.57 L36.9 186.61 L37.82 185.31 L38.75 185.48 L39.67 184.37 L40.6 177.61 L41.52 175.54 L42.45 181.33 L43.37 191.78 L44.3 198.87 L45.22 208.5 L46.15 217.53 L47.07 232.72 L48 243.2 L48.92 258.59 L49.85 267.62 L50.77 272.88 L51.7 282.85 L52.62 289.42 L53.55 284 L54.47 282.25 L55.4 279.79 L56.32 270.29 L57.25 253.58 L58.17 234.62 L59.1 224.48 L60.02 211.22 L60.95 202.98 L61.87 194.49 L62.8 191.19 L63.72 184.53 L64.65 181.17 L65.57 186.91 L66.5 189.23 L67.42 193.85 L68.35 196.58 L69.27 201.48 L70.2 208.09 L71.12 221.14 L72.05 231.8 L72.97 240.87 L73.9 250.13 L74.82 258.14 L75.75 262.77 L76.67 269.17 L77.6 268.89 L78.52 267.23 L79.45 262.4 L80.37 257.36 L81.3 253.3 L82.22 246.08 L83.15 241.57 L84.07 235.08 L85 231.59 L85.92 225.63 L86.85 215.48 L87.77 205.34 L88.7 202.51 L89.62 202.1 L90.55 201.38 L91.47 199.89 L92.4 197.75 L93.32 204.79 L94.25 208.1 L95.17 216.08 L96.1 221.79 L97.02 226.51 L97.95 240.6 L98.87 255.23 L99.8 256.78 L100.72 258.49 L101.65 261.59 L102.57 265.01 L103.5 261.34 L104.42 259.97 L105.35 259.35 L106.27 261.55 L107.2 249.62 L108.12 232.61 L109.05 226.29 L109.97 220.02 L110.9 215.18 L111.82 211.97 L112.75 211.78 L113.67 211.33 L114.6 211.74 L115.52 209.27 L116.45 206.74 L117.37 205.08 L118.3 209.18 L119.22 216.89 L120.15 222.3 L121.07 226.58 L122 231.13 L122.92 233.97 L123.85 236.93 L124.77 241.25 L125.7 241.62 L126.62 245.13 L127.55 245.43 L128.47 249.16 L129.4 249.92 L130.32 253.76 L131.25 248.49 L132.17 242.79 L133.1 236.91 L134.02 232.33 L134.95 229.12 L135.87 224.05 L136.8 221.82 L137.72 219.89 L138.65 217.73 L139.57 212.82 L140.5 212.66 L141.42 213.68 L142.35 214.21 L143.27 219.91 L144.2 225.3 L145.12 227.78 L146.05 230.04 L146.97 232.39 L147.9 234.5 L148.82 237.95 L149.75 241.63 L150.67 244.1 L151.6 247.01 L152.52 248.98 L153.45 247.01 L154.37 242.75 L155.3 248.82 L156.22 246.7 L157.15 242.27 L158.07 234.76 L159 230.82 L159.92 224.86 L160.85 224.22 L161.77 223.13 L162.7 222.26 L163.62 220.87 L164.55 219.99 L165.47 219.84 L166.4 218.35 L167.32 219.51 L168.25 220.41 L169.17 224.83 L170.1 225.68 L171.02 227.27 L171.95 228.49 L172.87 229.22 L173.8 234.02 L174.72 232.98 L175.65 234.2 L176.57 237.24 L177.5 242.04 L178.42 243.44 L179.35 244.72 L180.27 242.31 L181.2 237.68 L182.12 234.86 L183.05 234.61 L183.97 231.3 L184.9 231.43 L185.82 229.54 L186.75 227.94 L187.67 225.27 L188.6 223.95 L189.52 221.32 L190.45 222.37 L191.37 220.59 L192.3 218.51 L193.22 218 L194.15 219.04 L195.07 220.28 L196 226.93 L196.92 230.04 L197.85 232.33 L198.77 233.58 L199.7 236.94 L200.62 241.22 L201.55 242.92 L202.47 241.27 L203.4 242.66 L204.32 241.55 L205.25 242.8 L206.17 244.23 L207.1 241.69 L208.02 241.11 L208.95 239.86 L209.87 233 L210.8 234.61 L211.72 229.38 L212.65 226.51 L213.57 224.79 L214.5 224.64" fill="none" stroke="#2d48ab" stroke-width="2.1" stroke-linecap="butt" stroke-linejoin="round"/>
<path d="M29.5 230.04 L30.32 235.29 L31.14 235.2 L31.97 233.27 L32.79 239.22 L33.61 240.38 L34.43 231.23 L35.26 234.01 L36.08 233.6 L36.9 235.77 L37.72 234.21 L38.54 232.46 L39.37 234.48 L40.19 233 L41.01 235.33 L41.83 235.5 L42.66 234.29 L43.48 234.89 L44.3 233.34 L45.12 234.29 L45.94 231.08 L46.77 235.24 L47.59 235.3 L48.41 237.02 L49.23 234.8 L50.06 233.4 L50.88 236.36 L51.7 234.87 L52.52 233.2 L53.34 234.9 L54.17 235.64 L54.99 232.41 L55.81 234.14 L56.63 233.39 L57.46 231.63 L58.28 231.55 L59.1 234.53 L59.92 234.75 L60.74 232.9 L61.57 233.62 L62.39 237.16 L63.21 230.36 L64.03 232.84 L64.86 231.19 L65.68 235.06 L66.5 229.77 L67.32 233.58 L68.14 232.46 L68.97 235.08 L69.79 232.4 L70.61 232.47 L71.43 232.32 L72.26 230.97 L73.08 231.74 L73.9 229.81 L74.72 232.84 L75.54 233.97 L76.37 231.96 L77.19 230.66 L78.01 229.44 L78.83 230.43 L79.66 235.93 L80.48 231.55 L81.3 229.4 L82.12 232.46 L82.94 233.81 L83.77 232.22 L84.59 234.07 L85.41 231.83 L86.23 233.35 L87.06 230.56 L87.88 232.59 L88.7 235.3 L89.52 232.67 L90.34 232.11 L91.17 235.4 L91.99 235.22 L92.81 239.27 L93.63 232.65 L94.46 235.86 L95.28 239.15 L96.1 238.47 L96.92 235.27 L97.74 233.24 L98.57 235.03 L99.39 233.85 L100.21 237.13 L101.03 237.6 L101.86 232.88 L102.68 233.64 L103.5 234.65 L104.32 231.81 L105.14 236.38 L105.97 235.15 L106.79 231.99 L107.61 230.15 L108.43 233.84 L109.26 230.19 L110.08 234.82 L110.9 232.71 L111.72 233.61 L112.54 236.42 L113.37 232.4 L114.19 230.84 L115.01 232.97 L115.83 232.67 L116.66 229.48 L117.48 234.9 L118.3 235.32 L119.12 233.46 L119.94 234.52 L120.77 229.13 L121.59 231.25 L122.41 233.68 L123.23 233.14 L124.06 225.86 L124.88 233.15 L125.7 233.5 L126.52 231.32 L127.34 230.68 L128.17 231.63 L128.99 234.09 L129.81 234.72 L130.63 231.16 L131.46 232.65 L132.28 236.1 L133.1 230.36 L133.92 231.33 L134.74 233.61 L135.57 233.81 L136.39 232.93 L137.21 235.01 L138.03 236.55 L138.86 233.2 L139.68 237.03 L140.5 233.33 L141.32 237.3 L142.14 234.6 L142.97 234.79 L143.79 230.86 L144.61 236.9 L145.43 237.7 L146.26 236.14 L147.08 237.18 L147.9 236.08 L148.72 233.96 L149.54 233.21 L150.37 231.33 L151.19 236.3 L152.01 229.17 L152.83 230.47 L153.66 234.96 L154.48 239.23 L155.3 234.49 L156.12 234.04 L156.94 238.88 L157.77 233.77 L158.59 234.19 L159.41 235.27 L160.23 232.16 L161.06 231.21 L161.88 234.18 L162.7 232.53 L163.52 234.23 L164.34 234.36 L165.17 232.41 L165.99 231.35 L166.81 233.51 L167.63 236.86 L168.46 230.9 L169.28 235.39 L170.1 231.72 L170.92 228.19 L171.74 231.92 L172.57 234.35 L173.39 234.91 L174.21 229.41 L175.03 231.93 L175.86 230.8 L176.68 230.05 L177.5 232.16 L178.32 232.79 L179.14 234.23 L179.97 238.81 L180.79 235.66 L181.61 232.76 L182.43 233.12 L183.26 232.05 L184.08 233.31 L184.9 232.86 L185.72 231.7 L186.54 235.36 L187.37 234.26 L188.19 237.18 L189.01 231.92 L189.83 234.02 L190.66 233.2 L191.48 231.12 L192.3 232.2 L193.12 234.68 L193.94 232.99 L194.77 237.71 L195.59 233.86 L196.41 234.52 L197.23 238.23 L198.06 232.04 L198.88 236.31 L199.7 233.39 L200.52 235.66 L201.34 232.64 L202.17 231.91 L202.99 236.31 L203.81 237.68 L204.63 234.64 L205.46 232.47 L206.28 234.9 L207.1 235.27 L207.92 232.81 L208.74 239.47 L209.57 234.93 L210.39 236.28 L211.21 232.61 L212.03 234.61 L212.86 235.25 L213.68 233.51 L214.5 235.71" fill="none" stroke="#ec1c24" stroke-width="2.0" stroke-linecap="butt" stroke-linejoin="round" stroke-dasharray="4.5 1.2"/>
</g>
<rect x="175.4" y="178.2" width="34.2" height="22.2" fill="#fff" stroke="#c2c2c2" stroke-width="1"/>
<line x1="178.3" y1="184.2" x2="194.8" y2="184.2" stroke="#2d48ab" stroke-width="2.0"/>
<line x1="178.3" y1="194.6" x2="194.8" y2="194.6" stroke="#ec1c24" stroke-width="2.0" stroke-dasharray="3.4 1.4"/>
<text x="196.2" y="187.1" font-family="Liberation Sans" font-size="7.8" font-weight="normal" font-style="normal" fill="#000" text-anchor="start">1 V</text>
<text x="196.2" y="197.5" font-family="Liberation Sans" font-size="7.8" font-weight="normal" font-style="normal" fill="#000" text-anchor="start">0 V</text>
<text x="122" y="169.3" font-family="Liberation Sans" font-size="9.2" font-weight="bold" font-style="normal" fill="#111" text-anchor="middle">optical recording</text>
<text x="122" y="316.9" font-family="Liberation Sans" font-size="9.2" font-weight="normal" font-style="normal" fill="#3a3a3a" text-anchor="middle">time [ms]</text>
<text x="13.8" y="233.3" font-family="Liberation Sans" font-size="9.2" font-weight="normal" font-style="normal" fill="#3a3a3a" text-anchor="middle" transform="rotate(-90 13.8 233.3)">signal [V]</text>
<text x="30.3" y="171.4" font-family="Liberation Sans" font-size="9.1" fill="#505050"><tspan fill="#777">×</tspan><tspan dx="1.0">10</tspan><tspan font-size="6.6" dy="-3.9">-4</tspan></text>
<text x="0.4" y="163.7" font-family="Liberation Sans" font-size="19" font-weight="normal" font-style="normal" fill="#111" text-anchor="start">(d)</text>
<line x1="268.6" y1="293.2" x2="268.6" y2="291.2" stroke="#c2c2c2" stroke-width="1"/>
<line x1="268.6" y1="173.5" x2="268.6" y2="175.5" stroke="#c2c2c2" stroke-width="1"/>
<line x1="314.9" y1="293.2" x2="314.9" y2="291.2" stroke="#c2c2c2" stroke-width="1"/>
<line x1="314.9" y1="173.5" x2="314.9" y2="175.5" stroke="#c2c2c2" stroke-width="1"/>
<line x1="361.2" y1="293.2" x2="361.2" y2="291.2" stroke="#c2c2c2" stroke-width="1"/>
<line x1="361.2" y1="173.5" x2="361.2" y2="175.5" stroke="#c2c2c2" stroke-width="1"/>
<line x1="407.5" y1="293.2" x2="407.5" y2="291.2" stroke="#c2c2c2" stroke-width="1"/>
<line x1="407.5" y1="173.5" x2="407.5" y2="175.5" stroke="#c2c2c2" stroke-width="1"/>
<line x1="453.8" y1="293.2" x2="453.8" y2="291.2" stroke="#c2c2c2" stroke-width="1"/>
<line x1="453.8" y1="173.5" x2="453.8" y2="175.5" stroke="#c2c2c2" stroke-width="1"/>
<line x1="268.6" y1="293.2" x2="270.6" y2="293.2" stroke="#c2c2c2" stroke-width="1"/>
<line x1="453.8" y1="293.2" x2="451.8" y2="293.2" stroke="#c2c2c2" stroke-width="1"/>
<line x1="268.6" y1="259.95" x2="270.6" y2="259.95" stroke="#c2c2c2" stroke-width="1"/>
<line x1="453.8" y1="259.95" x2="451.8" y2="259.95" stroke="#c2c2c2" stroke-width="1"/>
<line x1="268.6" y1="226.7" x2="270.6" y2="226.7" stroke="#c2c2c2" stroke-width="1"/>
<line x1="453.8" y1="226.7" x2="451.8" y2="226.7" stroke="#c2c2c2" stroke-width="1"/>
<line x1="268.6" y1="193.45" x2="270.6" y2="193.45" stroke="#c2c2c2" stroke-width="1"/>
<line x1="453.8" y1="193.45" x2="451.8" y2="193.45" stroke="#c2c2c2" stroke-width="1"/>
<rect x="268.6" y="173.5" width="185.2" height="119.7" fill="none" stroke="#c2c2c2" stroke-width="1"/>
<text x="268.6" y="305.8" font-family="Liberation Sans" font-size="9.5" font-weight="normal" font-style="normal" fill="#3a3a3a" text-anchor="middle">0</text>
<text x="314.9" y="305.8" font-family="Liberation Sans" font-size="9.5" font-weight="normal" font-style="normal" fill="#3a3a3a" text-anchor="middle">200</text>
<text x="361.2" y="305.8" font-family="Liberation Sans" font-size="9.5" font-weight="normal" font-style="normal" fill="#3a3a3a" text-anchor="middle">400</text>
<text x="407.5" y="305.8" font-family="Liberation Sans" font-size="9.5" font-weight="normal" font-style="normal" fill="#3a3a3a" text-anchor="middle">600</text>
<text x="453.8" y="305.8" font-family="Liberation Sans" font-size="9.5" font-weight="normal" font-style="normal" fill="#3a3a3a" text-anchor="middle">800</text>
<text x="265.6" y="297.32" font-family="Liberation Sans" font-size="9.5" font-weight="normal" font-style="normal" fill="#3a3a3a" text-anchor="end">0</text>
<text x="265.6" y="264.07" font-family="Liberation Sans" font-size="9.5" font-weight="normal" font-style="normal" fill="#3a3a3a" text-anchor="end">0.5</text>
<text x="265.6" y="230.82" font-family="Liberation Sans" font-size="9.5" font-weight="normal" font-style="normal" fill="#3a3a3a" text-anchor="end">1</text>
<text x="265.6" y="197.57" font-family="Liberation Sans" font-size="9.5" font-weight="normal" font-style="normal" fill="#3a3a3a" text-anchor="end">1.5</text>
<clipPath id="ce"><rect x="268.6" y="171.5" width="187.2" height="123.7"/></clipPath>
<g clip-path="url(#ce)">
<path d="M268.6 293.2 L277.4 289.21 L283.65 287.21 L289.9 285.88 L296.15 289.88 L304.95 286.55 L311.2 286.55 L317.45 281.23 L325.09 281.23 L331.11 277.24 L338.74 271.25 L346.38 261.94 L353.33 238.67 L360.51 183.48 L367.91 194.12 L374.86 243.99 L382.04 259.28 L389.44 270.59 L395.46 271.92 L402.41 277.24 L410.05 278.57 L417.45 283.22 L424.17 285.22 L431.34 283.89 L443.85 285.22 L453.8 287.88" fill="none" stroke="#2d48ab" stroke-width="2.3" stroke-linecap="butt" stroke-linejoin="round"/>
<path d="M268.6 293.2 L269.22 293.04 L269.84 292.89 L270.46 292.73 L271.08 292.58 L271.7 292.43 L272.32 292.29 L272.94 292.15 L273.56 292.01 L274.17 291.88 L274.79 291.75 L275.41 291.63 L276.03 291.51 L276.65 291.4 L277.27 291.3 L277.89 291.2 L278.51 291.11 L279.13 291.01 L279.75 290.92 L280.37 290.82 L280.99 290.73 L281.61 290.63 L282.23 290.54 L282.85 290.44 L283.47 290.35 L284.08 290.27 L284.7 290.18 L285.32 290.1 L285.94 290.02 L286.56 289.95 L287.18 289.88 L287.8 289.82 L288.42 289.76 L289.04 289.7 L289.66 289.66 L290.28 289.62 L290.9 289.59 L291.52 289.56 L292.14 289.55 L292.76 289.54 L293.38 289.55 L294 289.57 L294.61 289.61 L295.23 289.67 L295.85 289.73 L296.47 289.82 L297.09 289.91 L297.71 290.01 L298.33 290.12 L298.95 290.24 L299.57 290.36 L300.19 290.49 L300.81 290.62 L301.43 290.75 L302.05 290.87 L302.67 291 L303.29 291.13 L303.91 291.25 L304.53 291.36 L305.14 291.46 L305.76 291.56 L306.38 291.65 L307 291.72 L307.62 291.78 L308.24 291.83 L308.86 291.86 L309.48 291.87 L310.1 291.86 L310.72 291.83 L311.34 291.78 L311.96 291.72 L312.58 291.64 L313.2 291.54 L313.82 291.43 L314.44 291.31 L315.05 291.19 L315.67 291.05 L316.29 290.92 L316.91 290.78 L317.53 290.63 L318.15 290.49 L318.77 290.36 L319.39 290.22 L320.01 290.1 L320.63 289.98 L321.25 289.87 L321.87 289.77 L322.49 289.69 L323.11 289.63 L323.73 289.58 L324.35 289.55 L324.97 289.54 L325.58 289.55 L326.2 289.58 L326.82 289.62 L327.44 289.67 L328.06 289.73 L328.68 289.8 L329.3 289.89 L329.92 289.98 L330.54 290.08 L331.16 290.19 L331.78 290.3 L332.4 290.42 L333.02 290.54 L333.64 290.67 L334.26 290.8 L334.88 290.93 L335.49 291.06 L336.11 291.19 L336.73 291.32 L337.35 291.45 L337.97 291.58 L338.59 291.7 L339.21 291.82 L339.83 291.93 L340.45 292.03 L341.07 292.13 L341.69 292.22 L342.31 292.3 L342.93 292.37 L343.55 292.43 L344.17 292.48 L344.79 292.51 L345.41 292.53 L346.02 292.53 L346.64 292.52 L347.26 292.49 L347.88 292.45 L348.5 292.38 L349.12 292.31 L349.74 292.22 L350.36 292.11 L350.98 292 L351.6 291.87 L352.22 291.74 L352.84 291.6 L353.46 291.45 L354.08 291.3 L354.7 291.14 L355.32 290.97 L355.94 290.81 L356.55 290.64 L357.17 290.47 L357.79 290.3 L358.41 290.14 L359.03 289.97 L359.65 289.81 L360.27 289.66 L360.89 289.51 L361.51 289.36 L362.13 289.23 L362.75 289.1 L363.37 288.99 L363.99 288.88 L364.61 288.79 L365.23 288.71 L365.85 288.64 L366.46 288.59 L367.08 288.56 L367.7 288.55 L368.32 288.55 L368.94 288.58 L369.56 288.62 L370.18 288.68 L370.8 288.76 L371.42 288.85 L372.04 288.96 L372.66 289.07 L373.28 289.19 L373.9 289.32 L374.52 289.45 L375.14 289.58 L375.76 289.71 L376.38 289.84 L376.99 289.96 L377.61 290.08 L378.23 290.18 L378.85 290.28 L379.47 290.37 L380.09 290.44 L380.71 290.49 L381.33 290.53 L381.95 290.54 L382.57 290.53 L383.19 290.49 L383.81 290.42 L384.43 290.33 L385.05 290.22 L385.67 290.09 L386.29 289.95 L386.91 289.79 L387.52 289.62 L388.14 289.45 L388.76 289.27 L389.38 289.09 L390 288.92 L390.62 288.75 L391.24 288.58 L391.86 288.43 L392.48 288.29 L393.1 288.17 L393.72 288.06 L394.34 287.98 L394.96 287.92 L395.58 287.88 L396.2 287.88 L396.82 287.9 L397.43 287.95 L398.05 288.01 L398.67 288.1 L399.29 288.2 L399.91 288.31 L400.53 288.45 L401.15 288.59 L401.77 288.74 L402.39 288.91 L403.01 289.08 L403.63 289.26 L404.25 289.45 L404.87 289.64 L405.49 289.83 L406.11 290.02 L406.73 290.21 L407.35 290.39 L407.96 290.57 L408.58 290.75 L409.2 290.92 L409.82 291.08 L410.44 291.23 L411.06 291.37 L411.68 291.49 L412.3 291.6 L412.92 291.7 L413.54 291.77 L414.16 291.83 L414.78 291.86 L415.4 291.87 L416.02 291.86 L416.64 291.83 L417.26 291.79 L417.87 291.73 L418.49 291.66 L419.11 291.57 L419.73 291.48 L420.35 291.37 L420.97 291.26 L421.59 291.14 L422.21 291.02 L422.83 290.89 L423.45 290.76 L424.07 290.63 L424.69 290.5 L425.31 290.37 L425.93 290.25 L426.55 290.13 L427.17 290.02 L427.79 289.92 L428.4 289.83 L429.02 289.74 L429.64 289.67 L430.26 289.62 L430.88 289.57 L431.5 289.55 L432.12 289.54 L432.74 289.55 L433.36 289.56 L433.98 289.58 L434.6 289.61 L435.22 289.65 L435.84 289.69 L436.46 289.74 L437.08 289.8 L437.7 289.86 L438.32 289.93 L438.93 290 L439.55 290.08 L440.17 290.16 L440.79 290.24 L441.41 290.33 L442.03 290.42 L442.65 290.51 L443.27 290.61 L443.89 290.7 L444.51 290.8 L445.13 290.9 L445.75 291 L446.37 291.1 L446.99 291.2 L447.61 291.3 L448.23 291.39 L448.84 291.49 L449.46 291.58 L450.08 291.67 L450.7 291.76 L451.32 291.85 L451.94 291.93 L452.56 292.02 L453.18 292.11 L453.8 292.2" fill="none" stroke="#ec1c24" stroke-width="2.3" stroke-linecap="butt" stroke-linejoin="round" stroke-dasharray="6.4 1.5 3.0 1.5"/>
</g>
<rect x="414.5" y="178.5" width="34.3" height="21.8" fill="#fff" stroke="#c2c2c2" stroke-width="1"/>
<line x1="417.5" y1="184.4" x2="433" y2="184.4" stroke="#2d48ab" stroke-width="2.3"/>
<text x="434.3" y="187.21" font-family="Liberation Sans" font-size="7.8" font-weight="normal" font-style="normal" fill="#000" text-anchor="start">1 V</text>
<line x1="417.5" y1="194.3" x2="433" y2="194.3" stroke="#ec1c24" stroke-width="2.3" stroke-dasharray="7.6 1.8 3.6 1.8"/>
<text x="434.3" y="197.11" font-family="Liberation Sans" font-size="7.8" font-weight="normal" font-style="normal" fill="#000" text-anchor="start">0 V</text>
<text x="361.2" y="169.3" font-family="Liberation Sans" font-size="9.2" font-weight="bold" font-style="normal" fill="#111" text-anchor="middle">optical recording</text>
<text x="361.2" y="316.9" font-family="Liberation Sans" font-size="9.2" font-weight="normal" font-style="normal" fill="#3a3a3a" text-anchor="middle">frequency [Hz]</text>
<text x="268.6" y="171.1" font-family="Liberation Sans" font-size="9.1" fill="#505050">x 10<tspan font-size="6.6" dy="-3.9">-5</tspan></text>
<text x="228.2" y="163.7" font-family="Liberation Sans" font-size="19" font-weight="normal" font-style="normal" fill="#111" text-anchor="start">(e)</text>
<line x1="507.5" y1="293.2" x2="507.5" y2="291.2" stroke="#c2c2c2" stroke-width="1"/>
<line x1="507.5" y1="173.5" x2="507.5" y2="175.5" stroke="#c2c2c2" stroke-width="1"/>
<line x1="538.33" y1="293.2" x2="538.33" y2="291.2" stroke="#c2c2c2" stroke-width="1"/>
<line x1="538.33" y1="173.5" x2="538.33" y2="175.5" stroke="#c2c2c2" stroke-width="1"/>
<line x1="569.17" y1="293.2" x2="569.17" y2="291.2" stroke="#c2c2c2" stroke-width="1"/>
<line x1="569.17" y1="173.5" x2="569.17" y2="175.5" stroke="#c2c2c2" stroke-width="1"/>
<line x1="600" y1="293.2" x2="600" y2="291.2" stroke="#c2c2c2" stroke-width="1"/>
<line x1="600" y1="173.5" x2="600" y2="175.5" stroke="#c2c2c2" stroke-width="1"/>
<line x1="630.83" y1="293.2" x2="630.83" y2="291.2" stroke="#c2c2c2" stroke-width="1"/>
<line x1="630.83" y1="173.5" x2="630.83" y2="175.5" stroke="#c2c2c2" stroke-width="1"/>
<line x1="661.67" y1="293.2" x2="661.67" y2="291.2" stroke="#c2c2c2" stroke-width="1"/>
<line x1="661.67" y1="173.5" x2="661.67" y2="175.5" stroke="#c2c2c2" stroke-width="1"/>
<line x1="692.5" y1="293.2" x2="692.5" y2="291.2" stroke="#c2c2c2" stroke-width="1"/>
<line x1="692.5" y1="173.5" x2="692.5" y2="175.5" stroke="#c2c2c2" stroke-width="1"/>
<line x1="507.5" y1="293.2" x2="509.5" y2="293.2" stroke="#c2c2c2" stroke-width="1"/>
<line x1="692.5" y1="293.2" x2="690.5" y2="293.2" stroke="#c2c2c2" stroke-width="1"/>
<line x1="507.5" y1="269.26" x2="509.5" y2="269.26" stroke="#c2c2c2" stroke-width="1"/>
<line x1="692.5" y1="269.26" x2="690.5" y2="269.26" stroke="#c2c2c2" stroke-width="1"/>
<line x1="507.5" y1="245.32" x2="509.5" y2="245.32" stroke="#c2c2c2" stroke-width="1"/>
<line x1="692.5" y1="245.32" x2="690.5" y2="245.32" stroke="#c2c2c2" stroke-width="1"/>
<line x1="507.5" y1="221.38" x2="509.5" y2="221.38" stroke="#c2c2c2" stroke-width="1"/>
<line x1="692.5" y1="221.38" x2="690.5" y2="221.38" stroke="#c2c2c2" stroke-width="1"/>
<line x1="507.5" y1="197.44" x2="509.5" y2="197.44" stroke="#c2c2c2" stroke-width="1"/>
<line x1="692.5" y1="197.44" x2="690.5" y2="197.44" stroke="#c2c2c2" stroke-width="1"/>
<line x1="507.5" y1="173.5" x2="509.5" y2="173.5" stroke="#c2c2c2" stroke-width="1"/>
<line x1="692.5" y1="173.5" x2="690.5" y2="173.5" stroke="#c2c2c2" stroke-width="1"/>
<rect x="507.5" y="173.5" width="185" height="119.7" fill="none" stroke="#c2c2c2" stroke-width="1"/>
<text x="507.5" y="305.8" font-family="Liberation Sans" font-size="9.5" font-weight="normal" font-style="normal" fill="#3a3a3a" text-anchor="middle">0</text>
<text x="538.33" y="305.8" font-family="Liberation Sans" font-size="9.5" font-weight="normal" font-style="normal" fill="#3a3a3a" text-anchor="middle">0.2</text>
<text x="569.17" y="305.8" font-family="Liberation Sans" font-size="9.5" font-weight="normal" font-style="normal" fill="#3a3a3a" text-anchor="middle">0.4</text>
<text x="600" y="305.8" font-family="Liberation Sans" font-size="9.5" font-weight="normal" font-style="normal" fill="#3a3a3a" text-anchor="middle">0.6</text>
<text x="630.83" y="305.8" font-family="Liberation Sans" font-size="9.5" font-weight="normal" font-style="normal" fill="#3a3a3a" text-anchor="middle">0.8</text>
<text x="661.67" y="305.8" font-family="Liberation Sans" font-size="9.5" font-weight="normal" font-style="normal" fill="#3a3a3a" text-anchor="middle">1</text>
<text x="692.5" y="305.8" font-family="Liberation Sans" font-size="9.5" font-weight="normal" font-style="normal" fill="#3a3a3a" text-anchor="middle">1.2</text>
<text x="504.5" y="297.32" font-family="Liberation Sans" font-size="9.5" font-weight="normal" font-style="normal" fill="#3a3a3a" text-anchor="end">0</text>
<text x="504.5" y="273.38" font-family="Liberation Sans" font-size="9.5" font-weight="normal" font-style="normal" fill="#3a3a3a" text-anchor="end">2</text>
<text x="504.5" y="249.44" font-family="Liberation Sans" font-size="9.5" font-weight="normal" font-style="normal" fill="#3a3a3a" text-anchor="end">4</text>
<text x="504.5" y="225.5" font-family="Liberation Sans" font-size="9.5" font-weight="normal" font-style="normal" fill="#3a3a3a" text-anchor="end">6</text>
<text x="504.5" y="201.56" font-family="Liberation Sans" font-size="9.5" font-weight="normal" font-style="normal" fill="#3a3a3a" text-anchor="end">8</text>
<text x="504.5" y="177.62" font-family="Liberation Sans" font-size="9.5" font-weight="normal" font-style="normal" fill="#3a3a3a" text-anchor="end">10</text>
<rect x="506.15" y="290.77" width="2.7" height="2.7" fill="#ec1c24"/>
<rect x="567.82" y="286.1" width="2.7" height="2.7" fill="#ec1c24"/>
<rect x="598.65" y="286.7" width="2.7" height="2.7" fill="#ec1c24"/>
<rect x="629.48" y="280.36" width="2.7" height="2.7" fill="#ec1c24"/>
<rect x="629.48" y="284.43" width="2.7" height="2.7" fill="#ec1c24"/>
<rect x="660.32" y="285.15" width="2.7" height="2.7" fill="#ec1c24"/>
<rect x="691.15" y="274.85" width="2.7" height="2.7" fill="#ec1c24"/>
<rect x="691.15" y="278.68" width="2.7" height="2.7" fill="#ec1c24"/>
<circle cx="507.5" cy="288.41" r="1.85" fill="#2d48ab"/>
<circle cx="507.5" cy="290.45" r="1.85" fill="#2d48ab"/>
<circle cx="522.92" cy="289.97" r="1.85" fill="#2d48ab"/>
<circle cx="538.33" cy="289.49" r="1.85" fill="#2d48ab"/>
<circle cx="553.75" cy="289.25" r="1.85" fill="#2d48ab"/>
<circle cx="569.17" cy="267.46" r="1.85" fill="#2d48ab"/>
<circle cx="584.58" cy="219.94" r="1.85" fill="#2d48ab"/>
<circle cx="600" cy="202.95" r="1.85" fill="#2d48ab"/>
<circle cx="630.83" cy="187.5" r="1.85" fill="#2d48ab"/>
<circle cx="661.67" cy="183.79" r="1.85" fill="#2d48ab"/>
<circle cx="692.5" cy="185.71" r="1.85" fill="#2d48ab"/>
<rect x="513.1" y="178.6" width="72.6" height="21.8" fill="#fff" stroke="#c2c2c2" stroke-width="1"/>
<circle cx="524" cy="184.1" r="1.8" fill="#2d48ab"/>
<rect x="522.6" y="192.7" width="3.2" height="3.2" fill="#ec1c24"/>
<text x="533.4" y="187.3" font-family="Liberation Sans" font-size="7.8" font-weight="normal" font-style="normal" fill="#000" text-anchor="start">saline solution</text>
<text x="533.4" y="197.2" font-family="Liberation Sans" font-size="7.8" font-weight="normal" font-style="normal" fill="#000" text-anchor="start">high K solution</text>
<text x="600" y="169.3" font-family="Liberation Sans" font-size="9.2" font-weight="bold" font-style="normal" fill="#111" text-anchor="middle">optical recording</text>
<text x="600" y="316.9" font-family="Liberation Sans" font-size="9.2" font-weight="normal" font-style="normal" fill="#3a3a3a" text-anchor="middle">stimulation voltage [V]</text>
<text x="465.1" y="163.7" font-family="Liberation Sans" font-size="19" font-weight="normal" font-style="normal" fill="#111" text-anchor="start">(f)</text>
<g transform="translate(248 110.4) rotate(-90)"><path d="M0 -3.6 L1.4 -4.3 L3.3 1.0 L6.6 -8.7 L28.6 -8.7" fill="none" stroke="#4d4d4d" stroke-width="0.75" stroke-linejoin="miter"/><text x="7.6" y="0" font-family="Liberation Serif" font-size="10" font-style="italic" fill="#4d4d4d" textLength="19.2" lengthAdjust="spacing">PSD</text><text x="39.1" y="0" font-family="Liberation Serif" font-size="10" fill="#4d4d4d">[</text><text x="41.3" y="0" font-family="Liberation Serif" font-size="10" fill="#4d4d4d">V</text><text x="49" y="0" font-family="Liberation Serif" font-size="10" fill="#4d4d4d">/</text><path d="M54.3 -3.6 L55.3 -4.2 L57.2 1.0 L61.2 -8.7 L72.6 -8.7" fill="none" stroke="#4d4d4d" stroke-width="0.7"/><text x="61.6" y="0" font-family="Liberation Serif" font-size="10" fill="#4d4d4d" textLength="10.0" lengthAdjust="spacing">Hz</text><text x="73.9" y="0" font-family="Liberation Serif" font-size="10" fill="#4d4d4d" text-anchor="end">]</text></g>
<g transform="translate(248 270.2) rotate(-90)"><path d="M0 -3.6 L1.4 -4.3 L3.3 1.0 L6.6 -8.7 L28.6 -8.7" fill="none" stroke="#4d4d4d" stroke-width="0.75" stroke-linejoin="miter"/><text x="7.6" y="0" font-family="Liberation Serif" font-size="10" font-style="italic" fill="#4d4d4d" textLength="19.2" lengthAdjust="spacing">PSD</text><text x="38.4" y="0" font-family="Liberation Serif" font-size="10" fill="#4d4d4d">[</text><text x="40.6" y="0" font-family="Liberation Serif" font-size="10" fill="#4d4d4d">V</text><text x="48.3" y="0" font-family="Liberation Serif" font-size="10" fill="#4d4d4d">/</text><path d="M53.6 -3.6 L54.6 -4.2 L56.5 1.0 L60.5 -8.7 L72 -8.7" fill="none" stroke="#4d4d4d" stroke-width="0.7"/><text x="60.9" y="0" font-family="Liberation Serif" font-size="10" fill="#4d4d4d" textLength="10.0" lengthAdjust="spacing">Hz</text><text x="73.3" y="0" font-family="Liberation Serif" font-size="10" fill="#4d4d4d" text-anchor="end">]</text></g>
<g transform="translate(487.6 119.5) rotate(-90)"><path d="M0 -3.6 L1.4 -4.3 L3.3 1.0 L6.6 -8.7 L46 -8.7" fill="none" stroke="#4d4d4d" stroke-width="0.75" stroke-linejoin="miter"/><text x="7.6" y="0" font-family="Liberation Serif" font-size="10" fill="#4d4d4d" textLength="37.8" lengthAdjust="spacing"><tspan font-style="italic">PSD</tspan>(Ω)</text><text x="56" y="0" font-family="Liberation Serif" font-size="10" fill="#4d4d4d">[</text><text x="58.2" y="0" font-family="Liberation Serif" font-size="10" fill="#4d4d4d">V</text><text x="65.9" y="0" font-family="Liberation Serif" font-size="10" fill="#4d4d4d">/</text><path d="M71.2 -3.6 L72.2 -4.2 L74.1 1.0 L78.1 -8.7 L89.5 -8.7" fill="none" stroke="#4d4d4d" stroke-width="0.7"/><text x="78.5" y="0" font-family="Liberation Serif" font-size="10" fill="#4d4d4d" textLength="10.0" lengthAdjust="spacing">Hz</text><text x="90.8" y="0" font-family="Liberation Serif" font-size="10" fill="#4d4d4d" text-anchor="end">]</text></g>
<g transform="translate(491.7 235) rotate(-90)"><text x="-34.8" y="0" font-family="Liberation Sans" font-size="9" fill="#3a3a3a">|B(Ω)|</text><text x="34.8" y="0" font-family="Liberation Sans" font-size="9" fill="#3a3a3a" text-anchor="end">[pT · ms]</text></g>
</svg></body></html>
